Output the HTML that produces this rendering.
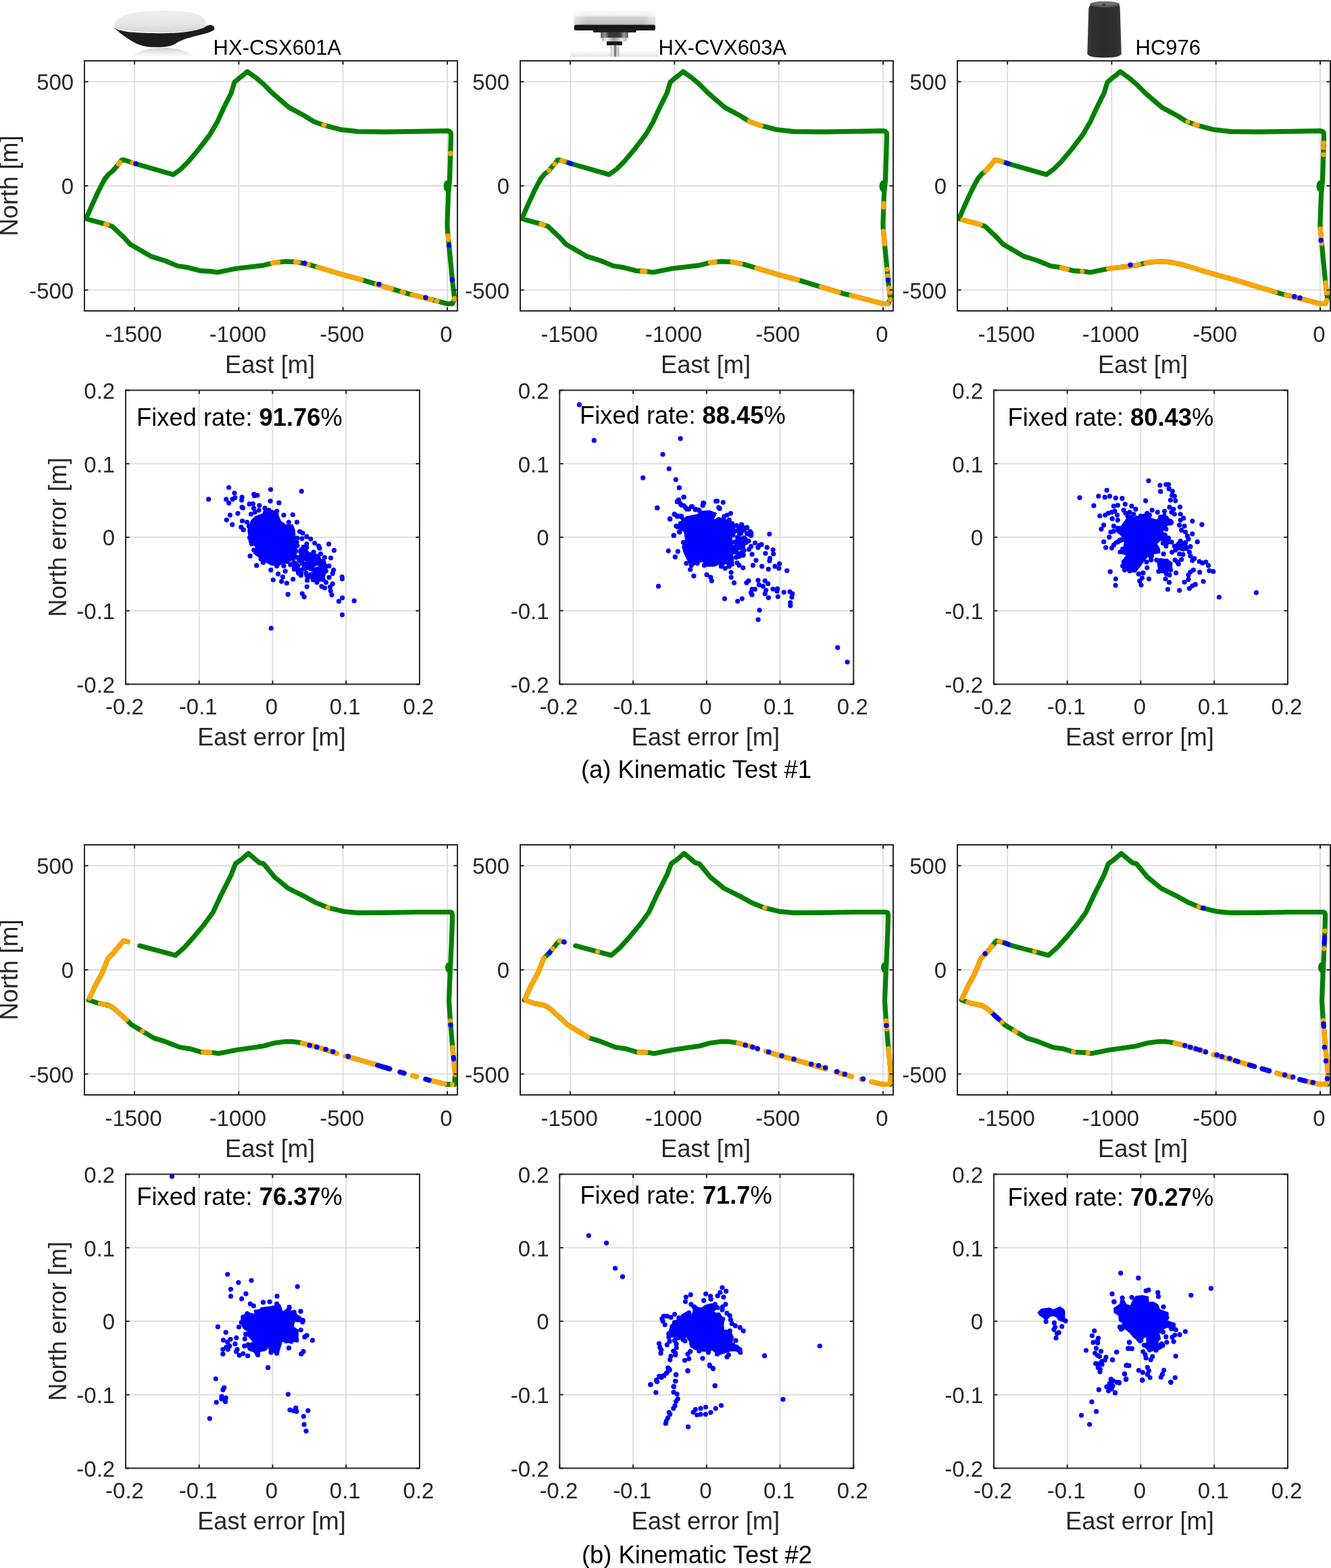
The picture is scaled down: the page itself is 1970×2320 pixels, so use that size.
<!DOCTYPE html><html><head><meta charset="utf-8"><title>Kinematic tests</title><style>html,body{margin:0;padding:0;background:#fff;overflow:hidden;width:1970px;height:2320px;}svg{display:block;}text{font-family:'Liberation Sans', Arial, Helvetica, sans-serif;}</style></head><body>
<svg width="1970" height="2320" viewBox="0 0 1970 2320">
<defs>
<clipPath id="ctr00"><rect x="125" y="90" width="552" height="370"/></clipPath>
<clipPath id="csc00"><rect x="186" y="577.4" width="435" height="435"/></clipPath>
<clipPath id="ctr01"><rect x="770" y="90" width="552" height="370"/></clipPath>
<clipPath id="csc01"><rect x="828.3" y="577.4" width="435" height="435"/></clipPath>
<clipPath id="ctr02"><rect x="1417" y="90" width="552" height="370"/></clipPath>
<clipPath id="csc02"><rect x="1470.9" y="577.4" width="435" height="435"/></clipPath>
<clipPath id="ctr10"><rect x="125" y="1250" width="552" height="370"/></clipPath>
<clipPath id="csc10"><rect x="186" y="1737.4" width="435" height="435"/></clipPath>
<clipPath id="ctr11"><rect x="770" y="1250" width="552" height="370"/></clipPath>
<clipPath id="csc11"><rect x="828.3" y="1737.4" width="435" height="435"/></clipPath>
<clipPath id="ctr12"><rect x="1417" y="1250" width="552" height="370"/></clipPath>
<clipPath id="csc12"><rect x="1470.9" y="1737.4" width="435" height="435"/></clipPath>

<linearGradient id="dome1" x1="0" y1="0" x2="0" y2="1"><stop offset="0" stop-color="#eef0ee"/><stop offset="0.6" stop-color="#e3e6e3"/><stop offset="1" stop-color="#d3d8d3"/></linearGradient>
<linearGradient id="refl1" x1="0" y1="0" x2="0" y2="1"><stop offset="0" stop-color="#d0d0d0"/><stop offset="1" stop-color="#ffffff"/></linearGradient>
<linearGradient id="top2" x1="0" y1="0" x2="0" y2="1"><stop offset="0" stop-color="#fbfbfb"/><stop offset="0.35" stop-color="#f1f1f1"/><stop offset="0.45" stop-color="#d2d2d2"/><stop offset="0.85" stop-color="#c4c4c4"/><stop offset="1" stop-color="#a9a9a9"/></linearGradient>
<linearGradient id="topH2" x1="0" y1="0" x2="1" y2="0"><stop offset="0" stop-color="#fff" stop-opacity="0.5"/><stop offset="0.15" stop-color="#fff" stop-opacity="0"/><stop offset="0.85" stop-color="#fff" stop-opacity="0"/><stop offset="1" stop-color="#fff" stop-opacity="0.5"/></linearGradient>
<linearGradient id="pin2" x1="0" y1="0" x2="1" y2="0"><stop offset="0" stop-color="#c8c6c0"/><stop offset="0.3" stop-color="#f0efea"/><stop offset="0.55" stop-color="#6e6b66"/><stop offset="0.8" stop-color="#e8e6e0"/><stop offset="1" stop-color="#a09e98"/></linearGradient>
<linearGradient id="ring2" x1="0" y1="0" x2="1" y2="0"><stop offset="0" stop-color="#bdbab4"/><stop offset="0.2" stop-color="#f2f1ed"/><stop offset="0.5" stop-color="#9d9a94"/><stop offset="0.8" stop-color="#f0efea"/><stop offset="1" stop-color="#b5b2ac"/></linearGradient>
<linearGradient id="nut2" x1="0" y1="0" x2="1" y2="0"><stop offset="0" stop-color="#555"/><stop offset="0.15" stop-color="#999"/><stop offset="0.3" stop-color="#3a3a3a"/><stop offset="0.7" stop-color="#3a3a3a"/><stop offset="0.85" stop-color="#999"/><stop offset="1" stop-color="#555"/></linearGradient>
<linearGradient id="shad2" x1="0" y1="0" x2="0" y2="1"><stop offset="0" stop-color="#ffffff"/><stop offset="1" stop-color="#e2e2e2"/></linearGradient>
<linearGradient id="body3" x1="0" y1="0" x2="1" y2="0"><stop offset="0" stop-color="#3c3d41"/><stop offset="0.12" stop-color="#2f3034"/><stop offset="0.5" stop-color="#2b2c30"/><stop offset="0.88" stop-color="#2f3034"/><stop offset="1" stop-color="#3a3b3f"/></linearGradient>

</defs>
<rect width="1970" height="2320" fill="#fff"/>

<path d="M194,84 C206,75 222,70.5 241,70.5 C262,70.5 279,76 290,84 Z" fill="url(#refl1)"/>
<path d="M168.6,40.5 C178,47.5 200,49 241,49.2 C272,49 294,45.5 304.5,38.5 L311,36.8 C316.5,37.5 318.5,40.5 317,44 C313,48 298,51 285,54.5 C273,57.5 265,61 259,65 C252,69 241,69.8 229,69.8 C215,69.8 205,66.5 198,62.5 C188,56.5 176,48.5 168.6,40.5 Z" fill="#1d1d1d"/>
<path d="M168.6,41 C167.5,30 179,22.5 199,18.8 C214,16.2 229,15.8 241.6,15.8 C255,15.8 270,16.2 285,18.8 C301,22.5 306,30 304.6,39.5 C295,45.5 270,47.8 241.5,48 C212,47.8 182,46 168.6,41 Z" fill="url(#dome1)"/>
<rect x="844" y="75" width="130" height="9" fill="url(#shad2)"/>
<rect x="849.5" y="15.3" width="120.7" height="22" rx="1.5" fill="url(#top2)"/>
<rect x="849.5" y="15.3" width="120.7" height="22" rx="1.5" fill="url(#topH2)"/>
<rect x="849.8" y="36.7" width="120.2" height="8.2" rx="2.5" fill="#161616"/>
<rect x="878" y="44" width="63.6" height="4" rx="1" fill="#1e1e1e"/>
<rect x="889.2" y="47.9" width="40.5" height="8.2" fill="url(#nut2)"/>
<rect x="890.8" y="55.8" width="36.5" height="5.6" fill="url(#ring2)"/>
<rect x="897.9" y="61.2" width="23.1" height="5.8" rx="1" fill="#121212"/>
<rect x="903.5" y="66.8" width="12.7" height="17" fill="url(#pin2)"/>
<path d="M1613,8 L1611.3,12 L1609.3,80 C1612,84.5 1622,85.2 1634.5,85.2 C1647,85.2 1657,84.5 1659.8,80 L1657.7,12 L1657.2,8 Z" fill="url(#body3)"/>
<ellipse cx="1635.1" cy="6.4" rx="22.1" ry="4.3" fill="#55565a"/>
<ellipse cx="1635" cy="5.2" rx="19" ry="3" fill="#6f7074"/>
<ellipse cx="1633.8" cy="6.9" rx="2.6" ry="1.1" fill="#2a2b2e"/>

<line x1="199.07" y1="90" x2="199.07" y2="460" stroke="#dcdcdc" stroke-width="1.8"/><line x1="353.38" y1="90" x2="353.38" y2="460" stroke="#dcdcdc" stroke-width="1.8"/><line x1="507.69" y1="90" x2="507.69" y2="460" stroke="#dcdcdc" stroke-width="1.8"/><line x1="662" y1="90" x2="662" y2="460" stroke="#dcdcdc" stroke-width="1.8"/><line x1="125" y1="120.83" x2="677" y2="120.83" stroke="#dcdcdc" stroke-width="1.8"/><line x1="125" y1="275" x2="677" y2="275" stroke="#dcdcdc" stroke-width="1.8"/><line x1="125" y1="429.17" x2="677" y2="429.17" stroke="#dcdcdc" stroke-width="1.8"/><g clip-path="url(#ctr00)"><polyline points="570.8,195.2 620.2,194.4 661.2,193.6 665,194 667.2,196.5 667.5,201 666.8,226.4 665.5,267.5 663.6,285 662,329.3 662.1,337.5 664.5,362.2 669.5,414.8 672.8,442.7 669.5,449.3 661.2,449.3 636.6,442.7 603.7,434.5 570.8,424.7 538,414.8 505.1,405.8 472.2,395.9 455.8,391 439.3,387.7 422.9,386.9 406.4,388.5 390,392.6 348.6,397.5 321.6,403 310.5,401.4 296.2,400.6 278.7,395.9 262.9,393.5 243.8,385.6 223.2,379.2 193,361.7 183.5,351.4 166,334.8 157.3,331.8 139.1,326.9 127.5,323.6 137.3,300.9 144.8,284.7 151.2,272 155.8,263.9 161.6,257 166.2,253.5 170.8,248.3 176,242.5 180.1,236.8 183.5,236.6 186.7,237.6 201,242.4 256.5,258.3 267.6,250.3 278.7,239.2 294.6,220.2 310.5,199.5 321.6,180.5 331.1,159.8 342.2,137.6 347,121.7 353.3,116.2 359.7,111.4 366,105.9 380.3,116.2 390,124.5 403.2,137.7 427.8,159 450.8,171.4 464,179.6 479.6,185.3 505.1,191.9 529.7,194.7 570.8,195.2" fill="none" stroke="#008000" stroke-width="7.2" stroke-linecap="round" stroke-linejoin="round"/><ellipse cx="661.5" cy="275.5" rx="5" ry="8.5" fill="#008000"/><polyline points="175.62,242.92 176,242.5 177.51,240.41" fill="none" stroke="#FFA500" stroke-width="7.2" stroke-linecap="round" stroke-linejoin="round"/><polyline points="195.94,240.7 196.89,241.02" fill="none" stroke="#FFA500" stroke-width="7.2" stroke-linecap="round" stroke-linejoin="round"/><polyline points="479.06,185.1 479.6,185.3 480.02,185.41" fill="none" stroke="#FFA500" stroke-width="7.2" stroke-linecap="round" stroke-linejoin="round"/><polyline points="666.8,226.52 666.76,227.52" fill="none" stroke="#FFA500" stroke-width="7.2" stroke-linecap="round" stroke-linejoin="round"/><polyline points="158.71,332.29 157.3,331.8 156.58,331.61" fill="none" stroke="#FFA500" stroke-width="7.2" stroke-linecap="round" stroke-linejoin="round"/><polyline points="411.73,387.98 406.4,388.5 403.29,389.28" fill="none" stroke="#FFA500" stroke-width="7.2" stroke-linecap="round" stroke-linejoin="round"/><polyline points="441.22,388.08 439.3,387.7 437.39,387.61" fill="none" stroke="#FFA500" stroke-width="7.2" stroke-linecap="round" stroke-linejoin="round"/><polyline points="456.46,391.2 455.8,391 455.5,390.94" fill="none" stroke="#FFA500" stroke-width="7.2" stroke-linecap="round" stroke-linejoin="round"/><polyline points="535.11,414.01 505.1,405.8 472.2,395.9 470.19,395.3" fill="none" stroke="#FFA500" stroke-width="7.2" stroke-linecap="round" stroke-linejoin="round"/><polyline points="579.39,427.26 570.8,424.7 557.26,420.61" fill="none" stroke="#FFA500" stroke-width="7.2" stroke-linecap="round" stroke-linejoin="round"/><polyline points="597.52,432.66 595.05,431.92" fill="none" stroke="#FFA500" stroke-width="7.2" stroke-linecap="round" stroke-linejoin="round"/><polyline points="638.6,443.24 636.6,442.7 609.93,436.05" fill="none" stroke="#FFA500" stroke-width="7.2" stroke-linecap="round" stroke-linejoin="round"/><polyline points="646.98,445.49 646.02,445.23" fill="none" stroke="#FFA500" stroke-width="7.2" stroke-linecap="round" stroke-linejoin="round"/><polyline points="663.2,348.79 663.73,354.29" fill="none" stroke="#FFA500" stroke-width="7.2" stroke-linecap="round" stroke-linejoin="round"/><polyline points="672.66,441.49 672.77,442.48" fill="none" stroke="#FFA500" stroke-width="7.2" stroke-linecap="round" stroke-linejoin="round"/><circle cx="201" cy="242.2" r="3.75" fill="#0000FF"/><circle cx="450.8" cy="389.3" r="3.75" fill="#0000FF"/><circle cx="561" cy="420.6" r="3.75" fill="#0000FF"/><circle cx="630" cy="440.3" r="3.75" fill="#0000FF"/><circle cx="664.5" cy="363" r="3.75" fill="#0000FF"/><circle cx="669.5" cy="414" r="3.75" fill="#0000FF"/></g><rect x="125" y="90" width="552" height="370" fill="none" stroke="#262626" stroke-width="2"/><line x1="199.07" y1="90" x2="199.07" y2="95.5" stroke="#262626" stroke-width="2"/><line x1="199.07" y1="460" x2="199.07" y2="454.5" stroke="#262626" stroke-width="2"/><line x1="353.38" y1="90" x2="353.38" y2="95.5" stroke="#262626" stroke-width="2"/><line x1="353.38" y1="460" x2="353.38" y2="454.5" stroke="#262626" stroke-width="2"/><line x1="507.69" y1="90" x2="507.69" y2="95.5" stroke="#262626" stroke-width="2"/><line x1="507.69" y1="460" x2="507.69" y2="454.5" stroke="#262626" stroke-width="2"/><line x1="662" y1="90" x2="662" y2="95.5" stroke="#262626" stroke-width="2"/><line x1="662" y1="460" x2="662" y2="454.5" stroke="#262626" stroke-width="2"/><line x1="125" y1="120.83" x2="130.5" y2="120.83" stroke="#262626" stroke-width="2"/><line x1="677" y1="120.83" x2="671.5" y2="120.83" stroke="#262626" stroke-width="2"/><line x1="125" y1="275" x2="130.5" y2="275" stroke="#262626" stroke-width="2"/><line x1="677" y1="275" x2="671.5" y2="275" stroke="#262626" stroke-width="2"/><line x1="125" y1="429.17" x2="130.5" y2="429.17" stroke="#262626" stroke-width="2"/><line x1="677" y1="429.17" x2="671.5" y2="429.17" stroke="#262626" stroke-width="2"/><text transform="matrix(1 0 0 1.03 197.57 505.5)" font-size="33" text-anchor="middle" fill="#262626">-1500</text><text transform="matrix(1 0 0 1.03 351.88 505.5)" font-size="33" text-anchor="middle" fill="#262626">-1000</text><text transform="matrix(1 0 0 1.03 506.19 505.5)" font-size="33" text-anchor="middle" fill="#262626">-500</text><text transform="matrix(1 0 0 1.03 660.5 505.5)" font-size="33" text-anchor="middle" fill="#262626">0</text><text transform="matrix(1 0 0 1.03 109.2 133.23)" font-size="33" text-anchor="end" fill="#262626">500</text><text transform="matrix(1 0 0 1.03 109.2 287.4)" font-size="33" text-anchor="end" fill="#262626">0</text><text transform="matrix(1 0 0 1.03 109.2 441.57)" font-size="33" text-anchor="end" fill="#262626">-500</text><text transform="matrix(1 0 0 1.03 399.5 551.8)" font-size="36.3" text-anchor="middle" fill="#262626">East [m]</text><text transform="matrix(0 -1 1.03 0 25.5 275)" font-size="36.3" text-anchor="middle" fill="#262626">North [m]</text>
<g fill="#0000FF">
<line x1="294.75" y1="577.4" x2="294.75" y2="1012.4" stroke="#dcdcdc" stroke-width="1.8"/><line x1="403.5" y1="577.4" x2="403.5" y2="1012.4" stroke="#dcdcdc" stroke-width="1.8"/><line x1="512.25" y1="577.4" x2="512.25" y2="1012.4" stroke="#dcdcdc" stroke-width="1.8"/><line x1="186" y1="903.65" x2="621" y2="903.65" stroke="#dcdcdc" stroke-width="1.8"/><line x1="186" y1="794.9" x2="621" y2="794.9" stroke="#dcdcdc" stroke-width="1.8"/><line x1="186" y1="686.15" x2="621" y2="686.15" stroke="#dcdcdc" stroke-width="1.8"/><g clip-path="url(#csc00)"><polygon points="366.19,784.44 370.95,770.16 377.3,763.81 388.41,759.84 390.79,753.49 401.9,753.89 411.43,757.46 413.02,763.81 416.19,770.95 422.54,775.71 433.65,775.71 436.83,784.44 437.62,795.56 436.03,805.08 440,811.43 439.21,819.37 433.65,827.3 425.71,834.44 419.37,833.65 413.02,837.62 401.9,836.83 392.38,832.06 382.86,824.92 374.92,819.37 378.1,809.84 371.75,803.49 367.78,795.56"/><circle cx="474.21" cy="845.38" r="3.6"/><circle cx="450.67" cy="818.85" r="3.6"/><circle cx="455.71" cy="826.61" r="3.6"/><circle cx="453.78" cy="836.1" r="3.6"/><circle cx="477.75" cy="831.92" r="3.6"/><circle cx="442.96" cy="845.27" r="3.6"/><circle cx="477.84" cy="857.34" r="3.6"/><circle cx="472.31" cy="853.05" r="3.6"/><circle cx="444.53" cy="843.89" r="3.6"/><circle cx="477.24" cy="841.45" r="3.6"/><circle cx="453.53" cy="810.43" r="3.6"/><circle cx="451.42" cy="837.56" r="3.6"/><circle cx="478.02" cy="856.48" r="3.6"/><circle cx="453.8" cy="851.09" r="3.6"/><circle cx="441.77" cy="847.89" r="3.6"/><circle cx="467.29" cy="826.29" r="3.6"/><circle cx="473.13" cy="840.61" r="3.6"/><circle cx="445.37" cy="851.37" r="3.6"/><circle cx="437.92" cy="835.26" r="3.6"/><circle cx="471.92" cy="828.9" r="3.6"/><circle cx="431.77" cy="822.1" r="3.6"/><circle cx="455.52" cy="854.68" r="3.6"/><circle cx="433.36" cy="834.39" r="3.6"/><circle cx="466.55" cy="834.19" r="3.6"/><circle cx="472.55" cy="833.81" r="3.6"/><circle cx="480.85" cy="837.15" r="3.6"/><circle cx="459.95" cy="828.74" r="3.6"/><circle cx="460.43" cy="825.55" r="3.6"/><circle cx="459.28" cy="820.52" r="3.6"/><circle cx="437.82" cy="815.01" r="3.6"/><circle cx="461.34" cy="840" r="3.6"/><circle cx="453.78" cy="809.86" r="3.6"/><circle cx="469.39" cy="851.7" r="3.6"/><circle cx="478.6" cy="849.88" r="3.6"/><circle cx="477.2" cy="854.16" r="3.6"/><circle cx="457.33" cy="825.89" r="3.6"/><circle cx="472.39" cy="850.25" r="3.6"/><circle cx="477.03" cy="836.44" r="3.6"/><circle cx="480.07" cy="835.9" r="3.6"/><circle cx="452.33" cy="840.19" r="3.6"/><circle cx="461.35" cy="830.95" r="3.6"/><circle cx="462.31" cy="850.02" r="3.6"/><circle cx="440.8" cy="843.98" r="3.6"/><circle cx="433.81" cy="816.8" r="3.6"/><circle cx="435.43" cy="842.18" r="3.6"/><circle cx="429.81" cy="835.59" r="3.6"/><circle cx="477.86" cy="833.49" r="3.6"/><circle cx="462.58" cy="837.32" r="3.6"/><circle cx="459.3" cy="825.88" r="3.6"/><circle cx="434.18" cy="816.28" r="3.6"/><circle cx="471.79" cy="854.9" r="3.6"/><circle cx="432.94" cy="818.9" r="3.6"/><circle cx="439.57" cy="839.48" r="3.6"/><circle cx="446.76" cy="814.67" r="3.6"/><circle cx="438.38" cy="824.15" r="3.6"/><circle cx="467.95" cy="849.66" r="3.6"/><circle cx="464.67" cy="856.48" r="3.6"/><circle cx="441.23" cy="836.81" r="3.6"/><circle cx="451.87" cy="814.38" r="3.6"/><circle cx="453.5" cy="826.88" r="3.6"/><circle cx="458.92" cy="832.12" r="3.6"/><circle cx="444.6" cy="824.07" r="3.6"/><circle cx="468.5" cy="822.94" r="3.6"/><circle cx="446.87" cy="820.39" r="3.6"/><circle cx="462.51" cy="838.1" r="3.6"/><circle cx="467.06" cy="825.71" r="3.6"/><circle cx="450.32" cy="839.69" r="3.6"/><circle cx="445.88" cy="817.81" r="3.6"/><circle cx="462.71" cy="825.21" r="3.6"/><circle cx="475.94" cy="835.29" r="3.6"/><circle cx="450.32" cy="826.47" r="3.6"/><circle cx="466.29" cy="827.32" r="3.6"/><circle cx="452.04" cy="818.86" r="3.6"/><circle cx="436.06" cy="833.13" r="3.6"/><circle cx="454.37" cy="834.93" r="3.6"/><circle cx="469.27" cy="852.08" r="3.6"/><circle cx="454.78" cy="821.67" r="3.6"/><circle cx="453.24" cy="848.1" r="3.6"/><circle cx="475.91" cy="848.28" r="3.6"/><circle cx="467.61" cy="857.55" r="3.6"/><circle cx="449.62" cy="841.16" r="3.6"/><circle cx="444.87" cy="816.43" r="3.6"/><circle cx="473.01" cy="833.17" r="3.6"/><circle cx="463.37" cy="851.54" r="3.6"/><circle cx="449.34" cy="809.4" r="3.6"/><circle cx="442.56" cy="829.17" r="3.6"/><circle cx="471.32" cy="850.88" r="3.6"/><circle cx="434.71" cy="832.78" r="3.6"/><circle cx="463.46" cy="823.53" r="3.6"/><circle cx="465.13" cy="834.77" r="3.6"/><circle cx="468.92" cy="842.37" r="3.6"/><circle cx="463.71" cy="842.96" r="3.6"/><circle cx="477.45" cy="839.12" r="3.6"/><circle cx="447.99" cy="833.68" r="3.6"/><circle cx="438.85" cy="836.3" r="3.6"/><circle cx="445.82" cy="847.07" r="3.6"/><circle cx="467.22" cy="823.07" r="3.6"/><circle cx="443.39" cy="826.07" r="3.6"/><circle cx="457.77" cy="820.68" r="3.6"/><circle cx="453.86" cy="817.83" r="3.6"/><circle cx="449.7" cy="822.55" r="3.6"/><circle cx="450.34" cy="810.36" r="3.6"/><circle cx="477.78" cy="830.28" r="3.6"/><circle cx="474.02" cy="856.99" r="3.6"/><circle cx="446.39" cy="830.55" r="3.6"/><circle cx="466.17" cy="827.76" r="3.6"/><circle cx="444.07" cy="844.15" r="3.6"/><circle cx="476.99" cy="853.98" r="3.6"/><circle cx="462.12" cy="825.05" r="3.6"/><circle cx="481.44" cy="839.05" r="3.6"/><circle cx="456.14" cy="828.93" r="3.6"/><circle cx="454.45" cy="836.18" r="3.6"/><circle cx="465.04" cy="827.57" r="3.6"/><circle cx="441.8" cy="846.4" r="3.6"/><circle cx="451.26" cy="824.14" r="3.6"/><circle cx="466.3" cy="853.1" r="3.6"/><circle cx="452.39" cy="841.07" r="3.6"/><circle cx="433.91" cy="826.24" r="3.6"/><circle cx="438.81" cy="807.32" r="3.6"/><circle cx="435.43" cy="815.61" r="3.6"/><circle cx="448.3" cy="834.13" r="3.6"/><circle cx="449.85" cy="841.23" r="3.6"/><circle cx="476.06" cy="831.42" r="3.6"/><circle cx="454.99" cy="831.59" r="3.6"/><circle cx="477.25" cy="848.58" r="3.6"/><circle cx="441.57" cy="846.78" r="3.6"/><circle cx="474.1" cy="836.08" r="3.6"/><circle cx="467.2" cy="847.99" r="3.6"/><circle cx="439.81" cy="807.24" r="3.6"/><circle cx="445.67" cy="813.62" r="3.6"/><circle cx="435.57" cy="839.97" r="3.6"/><circle cx="477.36" cy="831.8" r="3.6"/><circle cx="459.18" cy="841.16" r="3.6"/><circle cx="472.03" cy="845.38" r="3.6"/><circle cx="482.33" cy="844.8" r="3.6"/><circle cx="457.05" cy="836.91" r="3.6"/><circle cx="473.17" cy="830.72" r="3.6"/><circle cx="471.25" cy="825.74" r="3.6"/><circle cx="459.88" cy="850.35" r="3.6"/><circle cx="308.74" cy="738.64" r="3.6"/><circle cx="338.66" cy="721.25" r="3.6"/><circle cx="347.06" cy="729.5" r="3.6"/><circle cx="347.8" cy="736.43" r="3.6"/><circle cx="344.11" cy="738.64" r="3.6"/><circle cx="334.83" cy="738.93" r="3.6"/><circle cx="338.66" cy="744.24" r="3.6"/><circle cx="358.11" cy="735.69" r="3.6"/><circle cx="357.67" cy="740.11" r="3.6"/><circle cx="375.8" cy="731.27" r="3.6"/><circle cx="380.96" cy="732.74" r="3.6"/><circle cx="376.54" cy="733.48" r="3.6"/><circle cx="400.56" cy="724.34" r="3.6"/><circle cx="446.25" cy="726.85" r="3.6"/><circle cx="400.12" cy="741.29" r="3.6"/><circle cx="412.94" cy="743.94" r="3.6"/><circle cx="369.17" cy="745.71" r="3.6"/><circle cx="374.33" cy="745.27" r="3.6"/><circle cx="383.91" cy="747.77" r="3.6"/><circle cx="358.11" cy="750.43" r="3.6"/><circle cx="359.59" cy="751.61" r="3.6"/><circle cx="375.5" cy="751.9" r="3.6"/><circle cx="351.92" cy="759.57" r="3.6"/><circle cx="340.43" cy="762.22" r="3.6"/><circle cx="335.27" cy="769.29" r="3.6"/><circle cx="343.82" cy="776.22" r="3.6"/><circle cx="358.56" cy="770.77" r="3.6"/><circle cx="356.93" cy="779.9" r="3.6"/><circle cx="360.32" cy="783.88" r="3.6"/><circle cx="433.28" cy="761.48" r="3.6"/><circle cx="439.47" cy="772.54" r="3.6"/><circle cx="420.01" cy="762.22" r="3.6"/><circle cx="417.8" cy="776.22" r="3.6"/><circle cx="443.6" cy="786.54" r="3.6"/><circle cx="448.02" cy="788.75" r="3.6"/><circle cx="453.91" cy="793.91" r="3.6"/><circle cx="459.81" cy="797.59" r="3.6"/><circle cx="465.7" cy="803.49" r="3.6"/><circle cx="471.6" cy="807.91" r="3.6"/><circle cx="473.07" cy="811.15" r="3.6"/><circle cx="486.63" cy="804.96" r="3.6"/><circle cx="494.44" cy="814.24" r="3.6"/><circle cx="489.58" cy="825.59" r="3.6"/><circle cx="480.44" cy="824.86" r="3.6"/><circle cx="487.07" cy="837.38" r="3.6"/><circle cx="493.71" cy="843.28" r="3.6"/><circle cx="492.23" cy="848.44" r="3.6"/><circle cx="487.07" cy="854.33" r="3.6"/><circle cx="482.65" cy="861.7" r="3.6"/><circle cx="492.23" cy="863.91" r="3.6"/><circle cx="488.55" cy="868.33" r="3.6"/><circle cx="489.29" cy="874.23" r="3.6"/><circle cx="491.05" cy="880.13" r="3.6"/><circle cx="506.23" cy="853.6" r="3.6"/><circle cx="506.53" cy="856.54" r="3.6"/><circle cx="506.68" cy="884.55" r="3.6"/><circle cx="501.52" cy="889.71" r="3.6"/><circle cx="524.22" cy="888.97" r="3.6"/><circle cx="506.53" cy="909.6" r="3.6"/><circle cx="401.3" cy="929.5" r="3.6"/><circle cx="426.2" cy="879.39" r="3.6"/><circle cx="447.28" cy="878.36" r="3.6"/><circle cx="450.23" cy="883.07" r="3.6"/><circle cx="454.21" cy="868.04" r="3.6"/><circle cx="476.02" cy="867.6" r="3.6"/><circle cx="480.44" cy="869.81" r="3.6"/><circle cx="424.44" cy="862.73" r="3.6"/><circle cx="433.72" cy="856.99" r="3.6"/><circle cx="404.24" cy="858.02" r="3.6"/><circle cx="416.77" cy="860.23" r="3.6"/><circle cx="411.61" cy="849.17" r="3.6"/><circle cx="418.54" cy="853.6" r="3.6"/><circle cx="422.23" cy="845.05" r="3.6"/><circle cx="400.85" cy="843.28" r="3.6"/><circle cx="379.78" cy="836.65" r="3.6"/><circle cx="370.2" cy="822.65" r="3.6"/><circle cx="389.36" cy="832.23" r="3.6"/><circle cx="372.56" cy="804.66" r="3.6"/><circle cx="369.61" cy="795.38" r="3.6"/><circle cx="439.91" cy="796.12" r="3.6"/><circle cx="446.99" cy="796.85" r="3.6"/><circle cx="454.65" cy="858.75" r="3.6"/><circle cx="469.09" cy="861.7" r="3.6"/><circle cx="463.49" cy="858.02" r="3.6"/><circle cx="371.38" cy="760.74" r="3.6"/><circle cx="368.43" cy="778.43" r="3.6"/><circle cx="365.48" cy="772.54" r="3.6"/><circle cx="377.27" cy="757.8" r="3.6"/><circle cx="383.17" cy="754.85" r="3.6"/><circle cx="392.01" cy="751.9" r="3.6"/><circle cx="397.91" cy="754.85" r="3.6"/><circle cx="409.7" cy="756.32" r="3.6"/><circle cx="427.38" cy="772.54" r="3.6"/><circle cx="431.81" cy="781.38" r="3.6"/><circle cx="439.17" cy="802.01" r="3.6"/><circle cx="453.91" cy="804.96" r="3.6"/><circle cx="464.23" cy="816.75" r="3.6"/><circle cx="474.55" cy="819.7" r="3.6"/><circle cx="478.97" cy="831.49" r="3.6"/><circle cx="471.6" cy="852.12" r="3.6"/><circle cx="462.76" cy="855.07" r="3.6"/><circle cx="442.12" cy="846.23" r="3.6"/><circle cx="436.23" cy="837.38" r="3.6"/><circle cx="420.01" cy="837.38" r="3.6"/><circle cx="409.7" cy="837.38" r="3.6"/><circle cx="386.12" cy="827.07" r="3.6"/><circle cx="375.8" cy="813.8" r="3.6"/><circle cx="371.38" cy="800.54" r="3.6"/></g><rect x="186" y="577.4" width="435" height="435" fill="none" stroke="#262626" stroke-width="2"/><line x1="186" y1="577.4" x2="186" y2="582.9" stroke="#262626" stroke-width="2"/><line x1="186" y1="1012.4" x2="186" y2="1006.9" stroke="#262626" stroke-width="2"/><line x1="294.75" y1="577.4" x2="294.75" y2="582.9" stroke="#262626" stroke-width="2"/><line x1="294.75" y1="1012.4" x2="294.75" y2="1006.9" stroke="#262626" stroke-width="2"/><line x1="403.5" y1="577.4" x2="403.5" y2="582.9" stroke="#262626" stroke-width="2"/><line x1="403.5" y1="1012.4" x2="403.5" y2="1006.9" stroke="#262626" stroke-width="2"/><line x1="512.25" y1="577.4" x2="512.25" y2="582.9" stroke="#262626" stroke-width="2"/><line x1="512.25" y1="1012.4" x2="512.25" y2="1006.9" stroke="#262626" stroke-width="2"/><line x1="621" y1="577.4" x2="621" y2="582.9" stroke="#262626" stroke-width="2"/><line x1="621" y1="1012.4" x2="621" y2="1006.9" stroke="#262626" stroke-width="2"/><line x1="186" y1="1012.4" x2="191.5" y2="1012.4" stroke="#262626" stroke-width="2"/><line x1="621" y1="1012.4" x2="615.5" y2="1012.4" stroke="#262626" stroke-width="2"/><line x1="186" y1="903.65" x2="191.5" y2="903.65" stroke="#262626" stroke-width="2"/><line x1="621" y1="903.65" x2="615.5" y2="903.65" stroke="#262626" stroke-width="2"/><line x1="186" y1="794.9" x2="191.5" y2="794.9" stroke="#262626" stroke-width="2"/><line x1="621" y1="794.9" x2="615.5" y2="794.9" stroke="#262626" stroke-width="2"/><line x1="186" y1="686.15" x2="191.5" y2="686.15" stroke="#262626" stroke-width="2"/><line x1="621" y1="686.15" x2="615.5" y2="686.15" stroke="#262626" stroke-width="2"/><line x1="186" y1="577.4" x2="191.5" y2="577.4" stroke="#262626" stroke-width="2"/><line x1="621" y1="577.4" x2="615.5" y2="577.4" stroke="#262626" stroke-width="2"/><text transform="matrix(1 0 0 1.03 184.5 1057.3)" font-size="33" text-anchor="middle" fill="#262626">-0.2</text><text transform="matrix(1 0 0 1.03 293.25 1057.3)" font-size="33" text-anchor="middle" fill="#262626">-0.1</text><text transform="matrix(1 0 0 1.03 402 1057.3)" font-size="33" text-anchor="middle" fill="#262626">0</text><text transform="matrix(1 0 0 1.03 510.75 1057.3)" font-size="33" text-anchor="middle" fill="#262626">0.1</text><text transform="matrix(1 0 0 1.03 619.5 1057.3)" font-size="33" text-anchor="middle" fill="#262626">0.2</text><text transform="matrix(1 0 0 1.03 170.2 1024.8)" font-size="33" text-anchor="end" fill="#262626">-0.2</text><text transform="matrix(1 0 0 1.03 170.2 916.05)" font-size="33" text-anchor="end" fill="#262626">-0.1</text><text transform="matrix(1 0 0 1.03 170.2 807.3)" font-size="33" text-anchor="end" fill="#262626">0</text><text transform="matrix(1 0 0 1.03 170.2 698.55)" font-size="33" text-anchor="end" fill="#262626">0.1</text><text transform="matrix(1 0 0 1.03 170.2 589.8)" font-size="33" text-anchor="end" fill="#262626">0.2</text><text transform="matrix(1 0 0 1.03 402 1103.3)" font-size="36.3" text-anchor="middle" fill="#262626">East error [m]</text><text transform="matrix(0 -1 1.03 0 97.5 794.9)" font-size="36.3" text-anchor="middle" fill="#262626">North error [m]</text><text transform="matrix(1 0 0 1.03 202.1 629.7)" font-size="36.3" fill="#000">Fixed rate: <tspan font-weight="bold">91.76</tspan>%</text>
</g>
<line x1="844.07" y1="90" x2="844.07" y2="460" stroke="#dcdcdc" stroke-width="1.8"/><line x1="998.38" y1="90" x2="998.38" y2="460" stroke="#dcdcdc" stroke-width="1.8"/><line x1="1152.69" y1="90" x2="1152.69" y2="460" stroke="#dcdcdc" stroke-width="1.8"/><line x1="1307" y1="90" x2="1307" y2="460" stroke="#dcdcdc" stroke-width="1.8"/><line x1="770" y1="120.83" x2="1322" y2="120.83" stroke="#dcdcdc" stroke-width="1.8"/><line x1="770" y1="275" x2="1322" y2="275" stroke="#dcdcdc" stroke-width="1.8"/><line x1="770" y1="429.17" x2="1322" y2="429.17" stroke="#dcdcdc" stroke-width="1.8"/><g clip-path="url(#ctr01)"><polyline points="1215.8,195.2 1265.2,194.4 1306.2,193.6 1310,194 1312.2,196.5 1312.5,201 1311.8,226.4 1310.5,267.5 1308.6,285 1307,329.3 1307.1,337.5 1309.5,362.2 1314.5,414.8 1317.8,442.7 1314.5,449.3 1306.2,449.3 1281.6,442.7 1248.7,434.5 1215.8,424.7 1183,414.8 1150.1,405.8 1117.2,395.9 1100.8,391 1084.3,387.7 1067.9,386.9 1051.4,388.5 1035,392.6 993.6,397.5 966.6,403 955.5,401.4 941.2,400.6 923.7,395.9 907.9,393.5 888.8,385.6 868.2,379.2 838,361.7 828.5,351.4 811,334.8 802.3,331.8 784.1,326.9 772.5,323.6 782.3,300.9 789.8,284.7 796.2,272 800.8,263.9 806.6,257 811.2,253.5 815.8,248.3 821,242.5 825.1,236.8 828.5,236.6 831.7,237.6 846,242.4 901.5,258.3 912.6,250.3 923.7,239.2 939.6,220.2 955.5,199.5 966.6,180.5 976.1,159.8 987.2,137.6 992,121.7 998.3,116.2 1004.7,111.4 1011,105.9 1025.3,116.2 1035,124.5 1048.2,137.7 1072.8,159 1095.8,171.4 1109,179.6 1124.6,185.3 1150.1,191.9 1174.7,194.7 1215.8,195.2" fill="none" stroke="#008000" stroke-width="7.2" stroke-linecap="round" stroke-linejoin="round"/><ellipse cx="1306.5" cy="275.5" rx="5" ry="8.5" fill="#008000"/><polyline points="812.46,252.08 812.46,252.08" fill="none" stroke="#FFA500" stroke-width="7.2" stroke-linecap="round" stroke-linejoin="round"/><polyline points="820.87,242.64 820.87,242.64" fill="none" stroke="#FFA500" stroke-width="7.2" stroke-linecap="round" stroke-linejoin="round"/><polyline points="831.42,237.51 831.7,237.6 835,238.71" fill="none" stroke="#FFA500" stroke-width="7.2" stroke-linecap="round" stroke-linejoin="round"/><polyline points="1108.81,179.48 1109,179.6 1124.6,185.3 1126.7,185.84" fill="none" stroke="#FFA500" stroke-width="7.2" stroke-linecap="round" stroke-linejoin="round"/><polyline points="804.28,332.48 802.3,331.8 800.77,331.39" fill="none" stroke="#FFA500" stroke-width="7.2" stroke-linecap="round" stroke-linejoin="round"/><polyline points="954.86,401.36 950.5,401.12" fill="none" stroke="#FFA500" stroke-width="7.2" stroke-linecap="round" stroke-linejoin="round"/><polyline points="1058.37,387.82 1051.4,388.5 1051.37,388.51" fill="none" stroke="#FFA500" stroke-width="7.2" stroke-linecap="round" stroke-linejoin="round"/><polyline points="1095.9,390.02 1084.3,387.7 1084,387.69" fill="none" stroke="#FFA500" stroke-width="7.2" stroke-linecap="round" stroke-linejoin="round"/><polyline points="1180.62,414.15 1150.1,405.8 1119.83,396.69" fill="none" stroke="#FFA500" stroke-width="7.2" stroke-linecap="round" stroke-linejoin="round"/><polyline points="1241.37,432.32 1215.8,424.7 1215.18,424.51" fill="none" stroke="#FFA500" stroke-width="7.2" stroke-linecap="round" stroke-linejoin="round"/><polyline points="1313.56,449.3 1306.2,449.3 1281.6,442.7 1259.78,437.26" fill="none" stroke="#FFA500" stroke-width="7.2" stroke-linecap="round" stroke-linejoin="round"/><polyline points="1308.02,301 1307.82,306.58" fill="none" stroke="#FFA500" stroke-width="7.2" stroke-linecap="round" stroke-linejoin="round"/><polyline points="1307.55,342.13 1309.36,360.8" fill="none" stroke="#FFA500" stroke-width="7.2" stroke-linecap="round" stroke-linejoin="round"/><polyline points="1312.94,398.39 1312.94,398.39" fill="none" stroke="#FFA500" stroke-width="7.2" stroke-linecap="round" stroke-linejoin="round"/><polyline points="1313.87,408.17 1313.87,408.17" fill="none" stroke="#FFA500" stroke-width="7.2" stroke-linecap="round" stroke-linejoin="round"/><polyline points="1315.82,425.96 1316.66,433.1" fill="none" stroke="#FFA500" stroke-width="7.2" stroke-linecap="round" stroke-linejoin="round"/><polyline points="1317.64,443.02 1317.64,443.02" fill="none" stroke="#FFA500" stroke-width="7.2" stroke-linecap="round" stroke-linejoin="round"/><polyline points="842.61,241.26 845.25,242.15" fill="none" stroke="#0000FF" stroke-width="7.2" stroke-linecap="round" stroke-linejoin="round"/><circle cx="1314.5" cy="414.5" r="3.75" fill="#0000FF"/></g><rect x="770" y="90" width="552" height="370" fill="none" stroke="#262626" stroke-width="2"/><line x1="844.07" y1="90" x2="844.07" y2="95.5" stroke="#262626" stroke-width="2"/><line x1="844.07" y1="460" x2="844.07" y2="454.5" stroke="#262626" stroke-width="2"/><line x1="998.38" y1="90" x2="998.38" y2="95.5" stroke="#262626" stroke-width="2"/><line x1="998.38" y1="460" x2="998.38" y2="454.5" stroke="#262626" stroke-width="2"/><line x1="1152.69" y1="90" x2="1152.69" y2="95.5" stroke="#262626" stroke-width="2"/><line x1="1152.69" y1="460" x2="1152.69" y2="454.5" stroke="#262626" stroke-width="2"/><line x1="1307" y1="90" x2="1307" y2="95.5" stroke="#262626" stroke-width="2"/><line x1="1307" y1="460" x2="1307" y2="454.5" stroke="#262626" stroke-width="2"/><line x1="770" y1="120.83" x2="775.5" y2="120.83" stroke="#262626" stroke-width="2"/><line x1="1322" y1="120.83" x2="1316.5" y2="120.83" stroke="#262626" stroke-width="2"/><line x1="770" y1="275" x2="775.5" y2="275" stroke="#262626" stroke-width="2"/><line x1="1322" y1="275" x2="1316.5" y2="275" stroke="#262626" stroke-width="2"/><line x1="770" y1="429.17" x2="775.5" y2="429.17" stroke="#262626" stroke-width="2"/><line x1="1322" y1="429.17" x2="1316.5" y2="429.17" stroke="#262626" stroke-width="2"/><text transform="matrix(1 0 0 1.03 842.57 505.5)" font-size="33" text-anchor="middle" fill="#262626">-1500</text><text transform="matrix(1 0 0 1.03 996.88 505.5)" font-size="33" text-anchor="middle" fill="#262626">-1000</text><text transform="matrix(1 0 0 1.03 1151.19 505.5)" font-size="33" text-anchor="middle" fill="#262626">-500</text><text transform="matrix(1 0 0 1.03 1305.5 505.5)" font-size="33" text-anchor="middle" fill="#262626">0</text><text transform="matrix(1 0 0 1.03 754.2 133.23)" font-size="33" text-anchor="end" fill="#262626">500</text><text transform="matrix(1 0 0 1.03 754.2 287.4)" font-size="33" text-anchor="end" fill="#262626">0</text><text transform="matrix(1 0 0 1.03 754.2 441.57)" font-size="33" text-anchor="end" fill="#262626">-500</text><text transform="matrix(1 0 0 1.03 1044.5 551.8)" font-size="36.3" text-anchor="middle" fill="#262626">East [m]</text>
<g fill="#0000FF">
<line x1="937.05" y1="577.4" x2="937.05" y2="1012.4" stroke="#dcdcdc" stroke-width="1.8"/><line x1="1045.8" y1="577.4" x2="1045.8" y2="1012.4" stroke="#dcdcdc" stroke-width="1.8"/><line x1="1154.55" y1="577.4" x2="1154.55" y2="1012.4" stroke="#dcdcdc" stroke-width="1.8"/><line x1="828.3" y1="903.65" x2="1263.3" y2="903.65" stroke="#dcdcdc" stroke-width="1.8"/><line x1="828.3" y1="794.9" x2="1263.3" y2="794.9" stroke="#dcdcdc" stroke-width="1.8"/><line x1="828.3" y1="686.15" x2="1263.3" y2="686.15" stroke="#dcdcdc" stroke-width="1.8"/><g clip-path="url(#csc01)"><polygon points="1007.46,773.33 1015.4,763.81 1031.27,760.63 1039.21,755.87 1050.32,755.08 1061.43,759.05 1056.67,768.57 1065.4,765.4 1074.13,766.98 1077.3,771.75 1081.27,779.68 1083.65,795.56 1085.24,803.49 1085.24,819.37 1086.83,837.62 1079.68,839.21 1074.13,834.44 1068.57,839.21 1064.6,835.24 1057.46,838.41 1045.56,838.41 1040.79,832.06 1033.65,832.86 1027.3,836.83 1021.75,837.62 1016.98,828.89 1012.22,819.37 1009.05,809.05 1013.81,797.94 1012.22,787.62 1001.11,779.68"/><circle cx="1111.88" cy="788.78" r="3.6"/><circle cx="1088.6" cy="810.76" r="3.6"/><circle cx="1084.74" cy="780.81" r="3.6"/><circle cx="1084.19" cy="789.37" r="3.6"/><circle cx="1100.17" cy="820.68" r="3.6"/><circle cx="1097.58" cy="817.52" r="3.6"/><circle cx="1093.66" cy="804.14" r="3.6"/><circle cx="1097.53" cy="820.94" r="3.6"/><circle cx="1099.54" cy="808.18" r="3.6"/><circle cx="1087.88" cy="801.73" r="3.6"/><circle cx="1096.58" cy="789.18" r="3.6"/><circle cx="1108.49" cy="790.18" r="3.6"/><circle cx="1094.96" cy="810.43" r="3.6"/><circle cx="1101.09" cy="784.57" r="3.6"/><circle cx="1096.05" cy="796.81" r="3.6"/><circle cx="1098.57" cy="779.22" r="3.6"/><circle cx="1085.3" cy="787.48" r="3.6"/><circle cx="1099.98" cy="804.8" r="3.6"/><circle cx="1096.48" cy="808.32" r="3.6"/><circle cx="1084.94" cy="791.55" r="3.6"/><circle cx="1111.49" cy="792.09" r="3.6"/><circle cx="1101.39" cy="795.96" r="3.6"/><circle cx="1097.2" cy="807.34" r="3.6"/><circle cx="1084.53" cy="784.38" r="3.6"/><circle cx="1091.98" cy="799.2" r="3.6"/><circle cx="1094.61" cy="789.2" r="3.6"/><circle cx="1093.88" cy="781.61" r="3.6"/><circle cx="1098.47" cy="784.51" r="3.6"/><circle cx="1082.61" cy="782.35" r="3.6"/><circle cx="1092.37" cy="819" r="3.6"/><circle cx="1099.13" cy="821.56" r="3.6"/><circle cx="1091.93" cy="784.98" r="3.6"/><circle cx="1103.25" cy="781.42" r="3.6"/><circle cx="1087.21" cy="785.53" r="3.6"/><circle cx="1100.77" cy="803.56" r="3.6"/><circle cx="1090.17" cy="805.97" r="3.6"/><circle cx="1093.52" cy="808.73" r="3.6"/><circle cx="1090.17" cy="812.42" r="3.6"/><circle cx="1102.98" cy="797.52" r="3.6"/><circle cx="1083.67" cy="791.16" r="3.6"/><circle cx="1093.61" cy="782.54" r="3.6"/><circle cx="1097.37" cy="785.5" r="3.6"/><circle cx="1100.13" cy="803.9" r="3.6"/><circle cx="1088.28" cy="815.59" r="3.6"/><circle cx="1098.44" cy="783.08" r="3.6"/><circle cx="1091.67" cy="795.03" r="3.6"/><circle cx="1080.49" cy="774.12" r="3.6"/><circle cx="1082.94" cy="777.14" r="3.6"/><circle cx="1087.58" cy="809.25" r="3.6"/><circle cx="1105.77" cy="789.44" r="3.6"/><circle cx="1078.58" cy="772.47" r="3.6"/><circle cx="1095.8" cy="799.58" r="3.6"/><circle cx="1095.94" cy="782.08" r="3.6"/><circle cx="1098.42" cy="783.56" r="3.6"/><circle cx="1085.43" cy="816.44" r="3.6"/><circle cx="1088.49" cy="816.53" r="3.6"/><circle cx="1005.48" cy="721.77" r="3.6"/><circle cx="1012.11" cy="735.48" r="3.6"/><circle cx="1004.3" cy="739.9" r="3.6"/><circle cx="1006.96" cy="745.06" r="3.6"/><circle cx="1012.11" cy="748" r="3.6"/><circle cx="1016.54" cy="753.16" r="3.6"/><circle cx="1023.17" cy="749.48" r="3.6"/><circle cx="1029.06" cy="753.9" r="3.6"/><circle cx="1034.96" cy="755.37" r="3.6"/><circle cx="1041.59" cy="744.32" r="3.6"/><circle cx="1040.12" cy="748" r="3.6"/><circle cx="1061.49" cy="741.37" r="3.6"/><circle cx="1070.33" cy="743.29" r="3.6"/><circle cx="1065.17" cy="752.42" r="3.6"/><circle cx="1063.7" cy="750.95" r="3.6"/><circle cx="1081.39" cy="759.5" r="3.6"/><circle cx="1076.23" cy="762" r="3.6"/><circle cx="1071.81" cy="764.22" r="3.6"/><circle cx="1063.7" cy="768.64" r="3.6"/><circle cx="1079.17" cy="769.37" r="3.6"/><circle cx="1083.6" cy="774.53" r="3.6"/><circle cx="1090.23" cy="777.48" r="3.6"/><circle cx="1097.6" cy="776.01" r="3.6"/><circle cx="1105.7" cy="780.43" r="3.6"/><circle cx="1110.13" cy="786.32" r="3.6"/><circle cx="1111.6" cy="792.22" r="3.6"/><circle cx="972.76" cy="751.39" r="3.6"/><circle cx="991.78" cy="767.9" r="3.6"/><circle cx="998.11" cy="760.97" r="3.6"/><circle cx="1002.54" cy="764.22" r="3.6"/><circle cx="1008.43" cy="763.48" r="3.6"/><circle cx="1003.27" cy="779.69" r="3.6"/><circle cx="1005.48" cy="787.06" r="3.6"/><circle cx="997.38" cy="792.51" r="3.6"/><circle cx="1138.87" cy="790.01" r="3.6"/><circle cx="1107.91" cy="800.32" r="3.6"/><circle cx="1117.49" cy="803.27" r="3.6"/><circle cx="1124.13" cy="806.96" r="3.6"/><circle cx="1127.07" cy="805.48" r="3.6"/><circle cx="1111.6" cy="808.43" r="3.6"/><circle cx="1108.65" cy="812.85" r="3.6"/><circle cx="1121.92" cy="809.9" r="3.6"/><circle cx="1135.18" cy="809.9" r="3.6"/><circle cx="1144.02" cy="813.59" r="3.6"/><circle cx="1132.97" cy="818.75" r="3.6"/><circle cx="1144.76" cy="819.48" r="3.6"/><circle cx="1113.07" cy="820.22" r="3.6"/><circle cx="1118.97" cy="829.06" r="3.6"/><circle cx="1139.6" cy="826.12" r="3.6"/><circle cx="1138.87" cy="829.8" r="3.6"/><circle cx="1153.6" cy="834.22" r="3.6"/><circle cx="1146.97" cy="837.91" r="3.6"/><circle cx="1137.39" cy="842.03" r="3.6"/><circle cx="1152.87" cy="840.85" r="3.6"/><circle cx="1164.66" cy="844.24" r="3.6"/><circle cx="1127.81" cy="837.91" r="3.6"/><circle cx="1114.55" cy="836.43" r="3.6"/><circle cx="1099.81" cy="840.12" r="3.6"/><circle cx="1093.91" cy="836.43" r="3.6"/><circle cx="1090.97" cy="832.75" r="3.6"/><circle cx="1073.28" cy="840.85" r="3.6"/><circle cx="1082.12" cy="846.75" r="3.6"/><circle cx="1082.12" cy="854.12" r="3.6"/><circle cx="1086.54" cy="862.23" r="3.6"/><circle cx="1046.01" cy="850.43" r="3.6"/><circle cx="1051.91" cy="854.12" r="3.6"/><circle cx="1053.38" cy="859.28" r="3.6"/><circle cx="1026.85" cy="852.2" r="3.6"/><circle cx="1021.69" cy="842.77" r="3.6"/><circle cx="989.27" cy="815.06" r="3.6"/><circle cx="1003.27" cy="815.8" r="3.6"/><circle cx="999.29" cy="823.91" r="3.6"/><circle cx="974.53" cy="867.38" r="3.6"/><circle cx="1107.91" cy="859.28" r="3.6"/><circle cx="1104.97" cy="862.23" r="3.6"/><circle cx="1121.92" cy="858.54" r="3.6"/><circle cx="1132.23" cy="859.28" r="3.6"/><circle cx="1136.65" cy="863.7" r="3.6"/><circle cx="1123.39" cy="865.17" r="3.6"/><circle cx="1129.29" cy="867.38" r="3.6"/><circle cx="1117.49" cy="871.81" r="3.6"/><circle cx="1113.07" cy="871.81" r="3.6"/><circle cx="1111.6" cy="876.96" r="3.6"/><circle cx="1113.07" cy="879.91" r="3.6"/><circle cx="1133.71" cy="873.28" r="3.6"/><circle cx="1132.23" cy="878.44" r="3.6"/><circle cx="1144.02" cy="871.51" r="3.6"/><circle cx="1150.66" cy="871.07" r="3.6"/><circle cx="1149.92" cy="874.75" r="3.6"/><circle cx="1160.24" cy="876.23" r="3.6"/><circle cx="1169.08" cy="875.49" r="3.6"/><circle cx="1172.76" cy="878.44" r="3.6"/><circle cx="1172.03" cy="883.6" r="3.6"/><circle cx="1169.82" cy="891.7" r="3.6"/><circle cx="1169.82" cy="896.12" r="3.6"/><circle cx="1137.39" cy="884.33" r="3.6"/><circle cx="1151.39" cy="882.86" r="3.6"/><circle cx="1072.54" cy="885.81" r="3.6"/><circle cx="1091.7" cy="889.49" r="3.6"/><circle cx="1098.33" cy="885.81" r="3.6"/><circle cx="1124.13" cy="902.76" r="3.6"/><circle cx="1122.21" cy="916.76" r="3.6"/><circle cx="1099.81" cy="821.69" r="3.6"/><circle cx="1089.49" cy="824.64" r="3.6"/><circle cx="1015.8" cy="833.49" r="3.6"/><circle cx="1023.17" cy="836.43" r="3.6"/><circle cx="1032.01" cy="833.49" r="3.6"/><circle cx="1042.33" cy="836.43" r="3.6"/><circle cx="1067.38" cy="837.91" r="3.6"/><circle cx="1079.17" cy="837.91" r="3.6"/><circle cx="1093.91" cy="823.17" r="3.6"/><circle cx="1101.28" cy="814.33" r="3.6"/><circle cx="1104.23" cy="802.54" r="3.6"/><circle cx="1011.38" cy="802.54" r="3.6"/><circle cx="1014.33" cy="781.9" r="3.6"/><circle cx="1011.38" cy="768.64" r="3.6"/><circle cx="857.46" cy="598.71" r="3.6"/><circle cx="879.29" cy="651.71" r="3.6"/><circle cx="1007.12" cy="648.97" r="3.6"/><circle cx="980.93" cy="672.29" r="3.6"/><circle cx="990.29" cy="693.49" r="3.6"/><circle cx="951.62" cy="706.96" r="3.6"/><circle cx="1000.26" cy="709.71" r="3.6"/><circle cx="1005.25" cy="721.56" r="3.6"/><circle cx="1012.11" cy="735.28" r="3.6"/><circle cx="1004.63" cy="739.64" r="3.6"/><circle cx="972.83" cy="751.49" r="3.6"/><circle cx="991.53" cy="767.7" r="3.6"/><circle cx="997.15" cy="792.02" r="3.6"/><circle cx="1005.88" cy="787.03" r="3.6"/><circle cx="1040.8" cy="744.01" r="3.6"/><circle cx="1059.51" cy="741.51" r="3.6"/><circle cx="1002.14" cy="742.14" r="3.6"/><circle cx="1008.37" cy="747.12" r="3.6"/><circle cx="1014.61" cy="750.87" r="3.6"/><circle cx="1019.6" cy="753.36" r="3.6"/><circle cx="1024.58" cy="749.62" r="3.6"/><circle cx="1029.57" cy="753.36" r="3.6"/><circle cx="1034.56" cy="754.61" r="3.6"/><circle cx="998.39" cy="760.84" r="3.6"/><circle cx="1003.38" cy="763.34" r="3.6"/><circle cx="1008.37" cy="764.58" r="3.6"/><circle cx="1000.89" cy="778.3" r="3.6"/><circle cx="1007.12" cy="774.56" r="3.6"/><circle cx="1239.7" cy="958.2" r="3.6"/><circle cx="1254.2" cy="979.5" r="3.6"/></g><rect x="828.3" y="577.4" width="435" height="435" fill="none" stroke="#262626" stroke-width="2"/><line x1="828.3" y1="577.4" x2="828.3" y2="582.9" stroke="#262626" stroke-width="2"/><line x1="828.3" y1="1012.4" x2="828.3" y2="1006.9" stroke="#262626" stroke-width="2"/><line x1="937.05" y1="577.4" x2="937.05" y2="582.9" stroke="#262626" stroke-width="2"/><line x1="937.05" y1="1012.4" x2="937.05" y2="1006.9" stroke="#262626" stroke-width="2"/><line x1="1045.8" y1="577.4" x2="1045.8" y2="582.9" stroke="#262626" stroke-width="2"/><line x1="1045.8" y1="1012.4" x2="1045.8" y2="1006.9" stroke="#262626" stroke-width="2"/><line x1="1154.55" y1="577.4" x2="1154.55" y2="582.9" stroke="#262626" stroke-width="2"/><line x1="1154.55" y1="1012.4" x2="1154.55" y2="1006.9" stroke="#262626" stroke-width="2"/><line x1="1263.3" y1="577.4" x2="1263.3" y2="582.9" stroke="#262626" stroke-width="2"/><line x1="1263.3" y1="1012.4" x2="1263.3" y2="1006.9" stroke="#262626" stroke-width="2"/><line x1="828.3" y1="1012.4" x2="833.8" y2="1012.4" stroke="#262626" stroke-width="2"/><line x1="1263.3" y1="1012.4" x2="1257.8" y2="1012.4" stroke="#262626" stroke-width="2"/><line x1="828.3" y1="903.65" x2="833.8" y2="903.65" stroke="#262626" stroke-width="2"/><line x1="1263.3" y1="903.65" x2="1257.8" y2="903.65" stroke="#262626" stroke-width="2"/><line x1="828.3" y1="794.9" x2="833.8" y2="794.9" stroke="#262626" stroke-width="2"/><line x1="1263.3" y1="794.9" x2="1257.8" y2="794.9" stroke="#262626" stroke-width="2"/><line x1="828.3" y1="686.15" x2="833.8" y2="686.15" stroke="#262626" stroke-width="2"/><line x1="1263.3" y1="686.15" x2="1257.8" y2="686.15" stroke="#262626" stroke-width="2"/><line x1="828.3" y1="577.4" x2="833.8" y2="577.4" stroke="#262626" stroke-width="2"/><line x1="1263.3" y1="577.4" x2="1257.8" y2="577.4" stroke="#262626" stroke-width="2"/><text transform="matrix(1 0 0 1.03 826.8 1057.3)" font-size="33" text-anchor="middle" fill="#262626">-0.2</text><text transform="matrix(1 0 0 1.03 935.55 1057.3)" font-size="33" text-anchor="middle" fill="#262626">-0.1</text><text transform="matrix(1 0 0 1.03 1044.3 1057.3)" font-size="33" text-anchor="middle" fill="#262626">0</text><text transform="matrix(1 0 0 1.03 1153.05 1057.3)" font-size="33" text-anchor="middle" fill="#262626">0.1</text><text transform="matrix(1 0 0 1.03 1261.8 1057.3)" font-size="33" text-anchor="middle" fill="#262626">0.2</text><text transform="matrix(1 0 0 1.03 812.5 1024.8)" font-size="33" text-anchor="end" fill="#262626">-0.2</text><text transform="matrix(1 0 0 1.03 812.5 916.05)" font-size="33" text-anchor="end" fill="#262626">-0.1</text><text transform="matrix(1 0 0 1.03 812.5 807.3)" font-size="33" text-anchor="end" fill="#262626">0</text><text transform="matrix(1 0 0 1.03 812.5 698.55)" font-size="33" text-anchor="end" fill="#262626">0.1</text><text transform="matrix(1 0 0 1.03 812.5 589.8)" font-size="33" text-anchor="end" fill="#262626">0.2</text><text transform="matrix(1 0 0 1.03 1044.3 1103.3)" font-size="36.3" text-anchor="middle" fill="#262626">East error [m]</text><text transform="matrix(1 0 0 1.03 858.1 627.1)" font-size="36.3" fill="#000">Fixed rate: <tspan font-weight="bold">88.45</tspan>%</text>
</g>
<line x1="1491.07" y1="90" x2="1491.07" y2="460" stroke="#dcdcdc" stroke-width="1.8"/><line x1="1645.38" y1="90" x2="1645.38" y2="460" stroke="#dcdcdc" stroke-width="1.8"/><line x1="1799.69" y1="90" x2="1799.69" y2="460" stroke="#dcdcdc" stroke-width="1.8"/><line x1="1954" y1="90" x2="1954" y2="460" stroke="#dcdcdc" stroke-width="1.8"/><line x1="1417" y1="120.83" x2="1969" y2="120.83" stroke="#dcdcdc" stroke-width="1.8"/><line x1="1417" y1="275" x2="1969" y2="275" stroke="#dcdcdc" stroke-width="1.8"/><line x1="1417" y1="429.17" x2="1969" y2="429.17" stroke="#dcdcdc" stroke-width="1.8"/><g clip-path="url(#ctr02)"><polyline points="1862.8,195.2 1912.2,194.4 1953.2,193.6 1957,194 1959.2,196.5 1959.5,201 1958.8,226.4 1957.5,267.5 1955.6,285 1954,329.3 1954.1,337.5 1956.5,362.2 1961.5,414.8 1964.8,442.7 1961.5,449.3 1953.2,449.3 1928.6,442.7 1895.7,434.5 1862.8,424.7 1830,414.8 1797.1,405.8 1764.2,395.9 1747.8,391 1731.3,387.7 1714.9,386.9 1698.4,388.5 1682,392.6 1640.6,397.5 1613.6,403 1602.5,401.4 1588.2,400.6 1570.7,395.9 1554.9,393.5 1535.8,385.6 1515.2,379.2 1485,361.7 1475.5,351.4 1458,334.8 1449.3,331.8 1431.1,326.9 1419.5,323.6 1429.3,300.9 1436.8,284.7 1443.2,272 1447.8,263.9 1453.6,257 1458.2,253.5 1462.8,248.3 1468,242.5 1472.1,236.8 1475.5,236.6 1478.7,237.6 1493,242.4 1548.5,258.3 1559.6,250.3 1570.7,239.2 1586.6,220.2 1602.5,199.5 1613.6,180.5 1623.1,159.8 1634.2,137.6 1639,121.7 1645.3,116.2 1651.7,111.4 1658,105.9 1672.3,116.2 1682,124.5 1695.2,137.7 1719.8,159 1742.8,171.4 1756,179.6 1771.6,185.3 1797.1,191.9 1821.7,194.7 1862.8,195.2" fill="none" stroke="#008000" stroke-width="7.2" stroke-linecap="round" stroke-linejoin="round"/><ellipse cx="1953.5" cy="275.5" rx="5" ry="8.5" fill="#008000"/><polyline points="1458.6,253.05 1462.8,248.3 1468,242.5 1472.1,236.8 1475.5,236.6 1478.7,237.6 1482.96,239.03" fill="none" stroke="#FFA500" stroke-width="7.2" stroke-linecap="round" stroke-linejoin="round"/><polyline points="1757.84,180.27 1757.84,180.27" fill="none" stroke="#FFA500" stroke-width="7.2" stroke-linecap="round" stroke-linejoin="round"/><polyline points="1768.41,184.13 1771.6,185.3 1772.22,185.46" fill="none" stroke="#FFA500" stroke-width="7.2" stroke-linecap="round" stroke-linejoin="round"/><polyline points="1959.21,211.64 1959.21,211.64" fill="none" stroke="#FFA500" stroke-width="7.2" stroke-linecap="round" stroke-linejoin="round"/><polyline points="1959.02,218.24 1959.02,218.24" fill="none" stroke="#FFA500" stroke-width="7.2" stroke-linecap="round" stroke-linejoin="round"/><polyline points="1958.72,228.84 1958.72,228.84" fill="none" stroke="#FFA500" stroke-width="7.2" stroke-linecap="round" stroke-linejoin="round"/><polyline points="1450.94,332.37 1449.3,331.8 1431.1,326.9 1424.87,325.13" fill="none" stroke="#FFA500" stroke-width="7.2" stroke-linecap="round" stroke-linejoin="round"/><polyline points="1579.5,398.26 1571.19,396.03" fill="none" stroke="#FFA500" stroke-width="7.2" stroke-linecap="round" stroke-linejoin="round"/><polyline points="1601.66,401.35 1601.66,401.35" fill="none" stroke="#FFA500" stroke-width="7.2" stroke-linecap="round" stroke-linejoin="round"/><polyline points="1685.94,391.62 1682,392.6 1640.6,397.5 1640.47,397.53" fill="none" stroke="#FFA500" stroke-width="7.2" stroke-linecap="round" stroke-linejoin="round"/><polyline points="1887.77,432.14 1862.8,424.7 1830,414.8 1797.1,405.8 1764.2,395.9 1747.8,391 1731.3,387.7 1714.9,386.9 1698.4,388.5 1695.83,389.14" fill="none" stroke="#FFA500" stroke-width="7.2" stroke-linecap="round" stroke-linejoin="round"/><polyline points="1963.87,444.55 1961.5,449.3 1953.2,449.3 1928.6,442.7 1903.53,436.45" fill="none" stroke="#FFA500" stroke-width="7.2" stroke-linecap="round" stroke-linejoin="round"/><polyline points="1954.2,338.5 1956.31,360.29" fill="none" stroke="#FFA500" stroke-width="7.2" stroke-linecap="round" stroke-linejoin="round"/><polyline points="1961.93,418.43 1963.72,433.57" fill="none" stroke="#FFA500" stroke-width="7.2" stroke-linecap="round" stroke-linejoin="round"/><polyline points="1489.61,241.26 1492.25,242.15" fill="none" stroke="#0000FF" stroke-width="7.2" stroke-linecap="round" stroke-linejoin="round"/><circle cx="1673.1" cy="391.9" r="3.75" fill="#0000FF"/><circle cx="1955" cy="355.4" r="3.75" fill="#0000FF"/><circle cx="1915.8" cy="438.7" r="3.75" fill="#0000FF"/><circle cx="1924" cy="440.8" r="3.75" fill="#0000FF"/></g><rect x="1417" y="90" width="552" height="370" fill="none" stroke="#262626" stroke-width="2"/><line x1="1491.07" y1="90" x2="1491.07" y2="95.5" stroke="#262626" stroke-width="2"/><line x1="1491.07" y1="460" x2="1491.07" y2="454.5" stroke="#262626" stroke-width="2"/><line x1="1645.38" y1="90" x2="1645.38" y2="95.5" stroke="#262626" stroke-width="2"/><line x1="1645.38" y1="460" x2="1645.38" y2="454.5" stroke="#262626" stroke-width="2"/><line x1="1799.69" y1="90" x2="1799.69" y2="95.5" stroke="#262626" stroke-width="2"/><line x1="1799.69" y1="460" x2="1799.69" y2="454.5" stroke="#262626" stroke-width="2"/><line x1="1954" y1="90" x2="1954" y2="95.5" stroke="#262626" stroke-width="2"/><line x1="1954" y1="460" x2="1954" y2="454.5" stroke="#262626" stroke-width="2"/><line x1="1417" y1="120.83" x2="1422.5" y2="120.83" stroke="#262626" stroke-width="2"/><line x1="1969" y1="120.83" x2="1963.5" y2="120.83" stroke="#262626" stroke-width="2"/><line x1="1417" y1="275" x2="1422.5" y2="275" stroke="#262626" stroke-width="2"/><line x1="1969" y1="275" x2="1963.5" y2="275" stroke="#262626" stroke-width="2"/><line x1="1417" y1="429.17" x2="1422.5" y2="429.17" stroke="#262626" stroke-width="2"/><line x1="1969" y1="429.17" x2="1963.5" y2="429.17" stroke="#262626" stroke-width="2"/><text transform="matrix(1 0 0 1.03 1489.57 505.5)" font-size="33" text-anchor="middle" fill="#262626">-1500</text><text transform="matrix(1 0 0 1.03 1643.88 505.5)" font-size="33" text-anchor="middle" fill="#262626">-1000</text><text transform="matrix(1 0 0 1.03 1798.19 505.5)" font-size="33" text-anchor="middle" fill="#262626">-500</text><text transform="matrix(1 0 0 1.03 1952.5 505.5)" font-size="33" text-anchor="middle" fill="#262626">0</text><text transform="matrix(1 0 0 1.03 1401.2 133.23)" font-size="33" text-anchor="end" fill="#262626">500</text><text transform="matrix(1 0 0 1.03 1401.2 287.4)" font-size="33" text-anchor="end" fill="#262626">0</text><text transform="matrix(1 0 0 1.03 1401.2 441.57)" font-size="33" text-anchor="end" fill="#262626">-500</text><text transform="matrix(1 0 0 1.03 1691.5 551.8)" font-size="36.3" text-anchor="middle" fill="#262626">East [m]</text>
<g fill="#0000FF">
<line x1="1579.65" y1="577.4" x2="1579.65" y2="1012.4" stroke="#dcdcdc" stroke-width="1.8"/><line x1="1688.4" y1="577.4" x2="1688.4" y2="1012.4" stroke="#dcdcdc" stroke-width="1.8"/><line x1="1797.15" y1="577.4" x2="1797.15" y2="1012.4" stroke="#dcdcdc" stroke-width="1.8"/><line x1="1470.9" y1="903.65" x2="1905.9" y2="903.65" stroke="#dcdcdc" stroke-width="1.8"/><line x1="1470.9" y1="794.9" x2="1905.9" y2="794.9" stroke="#dcdcdc" stroke-width="1.8"/><line x1="1470.9" y1="686.15" x2="1905.9" y2="686.15" stroke="#dcdcdc" stroke-width="1.8"/><g clip-path="url(#csc02)"><polygon points="1659.05,778.1 1665.85,768.57 1671.29,760.41 1678.1,764.49 1684.9,765.85 1687.62,762.45 1697.82,757.69 1702.59,765.85 1711.43,768.57 1718.23,763.13 1725.03,756.33 1727.07,765.85 1735.24,768.57 1737.96,774.01 1728.44,778.1 1721.63,786.26 1728.44,794.42 1735.24,801.22 1728.44,806.67 1718.23,799.86 1712.79,804.63 1716.87,811.43 1717.55,818.23 1708.03,820.27 1703.95,828.44 1698.5,824.35 1693.06,831.16 1687.62,838.64 1680.82,847.48 1669.93,846.12 1662.45,838.64 1660.41,829.8 1666.53,821.63 1655.65,818.23 1662.45,810.07 1663.81,801.22 1653.61,805.31 1648.84,808.03 1648.16,801.22 1660.41,794.42 1653.61,787.62 1648.16,778.1"/><polygon points="1711.43,827.07 1718.23,825.71 1728.44,827.76 1735.24,831.84 1735.24,842.04 1725.03,848.84 1714.83,847.48 1713.47,838.64"/><polygon points="1744.08,799.86 1755.65,801.22 1759.73,811.43 1751.56,816.19 1743.4,813.47 1741.36,805.31"/><circle cx="1598.03" cy="736.43" r="3.6"/><circle cx="1625.88" cy="734.22" r="3.6"/><circle cx="1638.11" cy="725.37" r="3.6"/><circle cx="1635.17" cy="735.69" r="3.6"/><circle cx="1642.54" cy="734.22" r="3.6"/><circle cx="1651.38" cy="736.87" r="3.6"/><circle cx="1660.96" cy="737.46" r="3.6"/><circle cx="1618.95" cy="748.22" r="3.6"/><circle cx="1627.8" cy="763.25" r="3.6"/><circle cx="1635.9" cy="762.22" r="3.6"/><circle cx="1640.32" cy="759.27" r="3.6"/><circle cx="1645.48" cy="757.8" r="3.6"/><circle cx="1649.9" cy="756.32" r="3.6"/><circle cx="1648.43" cy="748.95" r="3.6"/><circle cx="1654.33" cy="747.48" r="3.6"/><circle cx="1665.38" cy="746.01" r="3.6"/><circle cx="1674.96" cy="748.95" r="3.6"/><circle cx="1680.85" cy="753.38" r="3.6"/><circle cx="1646.22" cy="767.38" r="3.6"/><circle cx="1653.59" cy="762.22" r="3.6"/><circle cx="1654.33" cy="769.59" r="3.6"/><circle cx="1648.43" cy="778.43" r="3.6"/><circle cx="1633.69" cy="776.96" r="3.6"/><circle cx="1630.01" cy="782.85" r="3.6"/><circle cx="1644.01" cy="787.27" r="3.6"/><circle cx="1648.43" cy="785.8" r="3.6"/><circle cx="1655.8" cy="785.8" r="3.6"/><circle cx="1641.8" cy="794.64" r="3.6"/><circle cx="1633.69" cy="801.72" r="3.6"/><circle cx="1636.64" cy="810.12" r="3.6"/><circle cx="1645.48" cy="810.85" r="3.6"/><circle cx="1648.43" cy="806.43" r="3.6"/><circle cx="1654.33" cy="802.01" r="3.6"/><circle cx="1657.27" cy="799.06" r="3.6"/><circle cx="1658.01" cy="816.75" r="3.6"/><circle cx="1661.69" cy="812.33" r="3.6"/><circle cx="1663.17" cy="754.85" r="3.6"/><circle cx="1666.12" cy="759.27" r="3.6"/><circle cx="1672.01" cy="757.8" r="3.6"/><circle cx="1669.06" cy="763.69" r="3.6"/><circle cx="1677.91" cy="760.74" r="3.6"/><circle cx="1682.33" cy="766.64" r="3.6"/><circle cx="1688.22" cy="763.69" r="3.6"/><circle cx="1695.59" cy="740.85" r="3.6"/><circle cx="1700.01" cy="711.37" r="3.6"/><circle cx="1705.17" cy="754.85" r="3.6"/><circle cx="1713.28" cy="757.8" r="3.6"/><circle cx="1697.8" cy="759.27" r="3.6"/><circle cx="1701.49" cy="762.22" r="3.6"/><circle cx="1694.12" cy="771.06" r="3.6"/><circle cx="1716.96" cy="718" r="3.6"/><circle cx="1717.7" cy="727.14" r="3.6"/><circle cx="1725.81" cy="716.97" r="3.6"/><circle cx="1729.49" cy="716.97" r="3.6"/><circle cx="1730.23" cy="723.16" r="3.6"/><circle cx="1735.39" cy="726.85" r="3.6"/><circle cx="1734.65" cy="732.74" r="3.6"/><circle cx="1738.33" cy="734.22" r="3.6"/><circle cx="1732.44" cy="740.11" r="3.6"/><circle cx="1739.81" cy="740.85" r="3.6"/><circle cx="1730.97" cy="750.43" r="3.6"/><circle cx="1736.86" cy="753.38" r="3.6"/><circle cx="1746.44" cy="750.13" r="3.6"/><circle cx="1723.6" cy="756.32" r="3.6"/><circle cx="1733.91" cy="757.8" r="3.6"/><circle cx="1738.33" cy="760.74" r="3.6"/><circle cx="1747.18" cy="760.74" r="3.6"/><circle cx="1751.6" cy="766.64" r="3.6"/><circle cx="1747.18" cy="769.59" r="3.6"/><circle cx="1753.07" cy="778.43" r="3.6"/><circle cx="1745.7" cy="776.96" r="3.6"/><circle cx="1748.65" cy="784.33" r="3.6"/><circle cx="1754.55" cy="787.27" r="3.6"/><circle cx="1757.49" cy="793.17" r="3.6"/><circle cx="1758.97" cy="797.59" r="3.6"/><circle cx="1754.55" cy="802.75" r="3.6"/><circle cx="1747.18" cy="800.54" r="3.6"/><circle cx="1744.23" cy="804.96" r="3.6"/><circle cx="1764.86" cy="771.06" r="3.6"/><circle cx="1778.87" cy="776.22" r="3.6"/><circle cx="1764.86" cy="789.78" r="3.6"/><circle cx="1772.23" cy="801.72" r="3.6"/><circle cx="1761.92" cy="808.64" r="3.6"/><circle cx="1756.02" cy="811.59" r="3.6"/><circle cx="1751.6" cy="807.91" r="3.6"/><circle cx="1744.23" cy="810.85" r="3.6"/><circle cx="1738.33" cy="807.91" r="3.6"/><circle cx="1733.91" cy="802.01" r="3.6"/><circle cx="1729.49" cy="796.12" r="3.6"/><circle cx="1724.33" cy="791.69" r="3.6"/><circle cx="1720.65" cy="772.54" r="3.6"/><circle cx="1717.7" cy="765.17" r="3.6"/><circle cx="1726.54" cy="766.64" r="3.6"/><circle cx="1732.44" cy="774.01" r="3.6"/><circle cx="1725.81" cy="782.85" r="3.6"/><circle cx="1721.39" cy="803.49" r="3.6"/><circle cx="1725.81" cy="807.91" r="3.6"/><circle cx="1734.65" cy="817.04" r="3.6"/><circle cx="1722.12" cy="819.7" r="3.6"/><circle cx="1739.81" cy="813.8" r="3.6"/><circle cx="1745.7" cy="819.7" r="3.6"/><circle cx="1750.86" cy="820.43" r="3.6"/><circle cx="1748.65" cy="827.8" r="3.6"/><circle cx="1744.23" cy="834.44" r="3.6"/><circle cx="1742.76" cy="831.49" r="3.6"/><circle cx="1739.07" cy="828.54" r="3.6"/><circle cx="1760.44" cy="816.75" r="3.6"/><circle cx="1761.92" cy="822.65" r="3.6"/><circle cx="1764.86" cy="829.28" r="3.6"/><circle cx="1767.81" cy="826.33" r="3.6"/><circle cx="1775.18" cy="830.75" r="3.6"/><circle cx="1779.6" cy="832.96" r="3.6"/><circle cx="1784.76" cy="831.49" r="3.6"/><circle cx="1788.45" cy="836.65" r="3.6"/><circle cx="1789.92" cy="844.46" r="3.6"/><circle cx="1795.81" cy="845.49" r="3.6"/><circle cx="1775.62" cy="846.67" r="3.6"/><circle cx="1766.34" cy="843.28" r="3.6"/><circle cx="1761.92" cy="846.23" r="3.6"/><circle cx="1758.97" cy="850.65" r="3.6"/><circle cx="1758.97" cy="857.28" r="3.6"/><circle cx="1753.07" cy="861.26" r="3.6"/><circle cx="1781.08" cy="860.23" r="3.6"/><circle cx="1769.29" cy="864.65" r="3.6"/><circle cx="1764.86" cy="866.86" r="3.6"/><circle cx="1760.44" cy="870.55" r="3.6"/><circle cx="1745.7" cy="873.49" r="3.6"/><circle cx="1728.46" cy="872.02" r="3.6"/><circle cx="1730.52" cy="861.7" r="3.6"/><circle cx="1725.07" cy="856.54" r="3.6"/><circle cx="1740.55" cy="847.7" r="3.6"/><circle cx="1714.75" cy="845.49" r="3.6"/><circle cx="1711.81" cy="828.54" r="3.6"/><circle cx="1716.23" cy="831.49" r="3.6"/><circle cx="1722.12" cy="831.49" r="3.6"/><circle cx="1726.54" cy="830.01" r="3.6"/><circle cx="1729.49" cy="837.38" r="3.6"/><circle cx="1732.44" cy="843.28" r="3.6"/><circle cx="1730.97" cy="850.65" r="3.6"/><circle cx="1726.54" cy="849.17" r="3.6"/><circle cx="1723.6" cy="840.33" r="3.6"/><circle cx="1719.17" cy="837.38" r="3.6"/><circle cx="1804.36" cy="883.52" r="3.6"/><circle cx="1643.27" cy="845.78" r="3.6"/><circle cx="1651.38" cy="856.54" r="3.6"/><circle cx="1651.08" cy="866.12" r="3.6"/><circle cx="1688.96" cy="865.39" r="3.6"/><circle cx="1686.75" cy="859.49" r="3.6"/><circle cx="1690.43" cy="855.07" r="3.6"/><circle cx="1700.46" cy="856.54" r="3.6"/><circle cx="1691.91" cy="847.7" r="3.6"/><circle cx="1685.28" cy="849.17" r="3.6"/><circle cx="1697.8" cy="840.04" r="3.6"/><circle cx="1697.07" cy="831.49" r="3.6"/><circle cx="1703.7" cy="828.54" r="3.6"/><circle cx="1704.44" cy="822.65" r="3.6"/><circle cx="1663.17" cy="831.49" r="3.6"/><circle cx="1664.64" cy="843.28" r="3.6"/><circle cx="1672.01" cy="844.75" r="3.6"/><circle cx="1661.69" cy="837.38" r="3.6"/><circle cx="1701.49" cy="778.43" r="3.6"/><circle cx="1707.38" cy="775.48" r="3.6"/><circle cx="1713.28" cy="778.43" r="3.6"/><circle cx="1859.4" cy="876.8" r="3.6"/></g><rect x="1470.9" y="577.4" width="435" height="435" fill="none" stroke="#262626" stroke-width="2"/><line x1="1470.9" y1="577.4" x2="1470.9" y2="582.9" stroke="#262626" stroke-width="2"/><line x1="1470.9" y1="1012.4" x2="1470.9" y2="1006.9" stroke="#262626" stroke-width="2"/><line x1="1579.65" y1="577.4" x2="1579.65" y2="582.9" stroke="#262626" stroke-width="2"/><line x1="1579.65" y1="1012.4" x2="1579.65" y2="1006.9" stroke="#262626" stroke-width="2"/><line x1="1688.4" y1="577.4" x2="1688.4" y2="582.9" stroke="#262626" stroke-width="2"/><line x1="1688.4" y1="1012.4" x2="1688.4" y2="1006.9" stroke="#262626" stroke-width="2"/><line x1="1797.15" y1="577.4" x2="1797.15" y2="582.9" stroke="#262626" stroke-width="2"/><line x1="1797.15" y1="1012.4" x2="1797.15" y2="1006.9" stroke="#262626" stroke-width="2"/><line x1="1905.9" y1="577.4" x2="1905.9" y2="582.9" stroke="#262626" stroke-width="2"/><line x1="1905.9" y1="1012.4" x2="1905.9" y2="1006.9" stroke="#262626" stroke-width="2"/><line x1="1470.9" y1="1012.4" x2="1476.4" y2="1012.4" stroke="#262626" stroke-width="2"/><line x1="1905.9" y1="1012.4" x2="1900.4" y2="1012.4" stroke="#262626" stroke-width="2"/><line x1="1470.9" y1="903.65" x2="1476.4" y2="903.65" stroke="#262626" stroke-width="2"/><line x1="1905.9" y1="903.65" x2="1900.4" y2="903.65" stroke="#262626" stroke-width="2"/><line x1="1470.9" y1="794.9" x2="1476.4" y2="794.9" stroke="#262626" stroke-width="2"/><line x1="1905.9" y1="794.9" x2="1900.4" y2="794.9" stroke="#262626" stroke-width="2"/><line x1="1470.9" y1="686.15" x2="1476.4" y2="686.15" stroke="#262626" stroke-width="2"/><line x1="1905.9" y1="686.15" x2="1900.4" y2="686.15" stroke="#262626" stroke-width="2"/><line x1="1470.9" y1="577.4" x2="1476.4" y2="577.4" stroke="#262626" stroke-width="2"/><line x1="1905.9" y1="577.4" x2="1900.4" y2="577.4" stroke="#262626" stroke-width="2"/><text transform="matrix(1 0 0 1.03 1469.4 1057.3)" font-size="33" text-anchor="middle" fill="#262626">-0.2</text><text transform="matrix(1 0 0 1.03 1578.15 1057.3)" font-size="33" text-anchor="middle" fill="#262626">-0.1</text><text transform="matrix(1 0 0 1.03 1686.9 1057.3)" font-size="33" text-anchor="middle" fill="#262626">0</text><text transform="matrix(1 0 0 1.03 1795.65 1057.3)" font-size="33" text-anchor="middle" fill="#262626">0.1</text><text transform="matrix(1 0 0 1.03 1904.4 1057.3)" font-size="33" text-anchor="middle" fill="#262626">0.2</text><text transform="matrix(1 0 0 1.03 1455.1 1024.8)" font-size="33" text-anchor="end" fill="#262626">-0.2</text><text transform="matrix(1 0 0 1.03 1455.1 916.05)" font-size="33" text-anchor="end" fill="#262626">-0.1</text><text transform="matrix(1 0 0 1.03 1455.1 807.3)" font-size="33" text-anchor="end" fill="#262626">0</text><text transform="matrix(1 0 0 1.03 1455.1 698.55)" font-size="33" text-anchor="end" fill="#262626">0.1</text><text transform="matrix(1 0 0 1.03 1455.1 589.8)" font-size="33" text-anchor="end" fill="#262626">0.2</text><text transform="matrix(1 0 0 1.03 1686.9 1103.3)" font-size="36.3" text-anchor="middle" fill="#262626">East error [m]</text><text transform="matrix(1 0 0 1.03 1491.6 629.5)" font-size="36.3" fill="#000">Fixed rate: <tspan font-weight="bold">80.43</tspan>%</text>
</g>
<line x1="199.07" y1="1250" x2="199.07" y2="1620" stroke="#dcdcdc" stroke-width="1.8"/><line x1="353.38" y1="1250" x2="353.38" y2="1620" stroke="#dcdcdc" stroke-width="1.8"/><line x1="507.69" y1="1250" x2="507.69" y2="1620" stroke="#dcdcdc" stroke-width="1.8"/><line x1="662" y1="1250" x2="662" y2="1620" stroke="#dcdcdc" stroke-width="1.8"/><line x1="125" y1="1280.83" x2="677" y2="1280.83" stroke="#dcdcdc" stroke-width="1.8"/><line x1="125" y1="1435" x2="677" y2="1435" stroke="#dcdcdc" stroke-width="1.8"/><line x1="125" y1="1589.17" x2="677" y2="1589.17" stroke="#dcdcdc" stroke-width="1.8"/><g clip-path="url(#ctr10)"><polyline points="570.8,1350.3 620.2,1349.5 666,1349.5 668.7,1350.5 669.6,1354 668.8,1381.5 667,1422.6 666.2,1440 664.5,1481.1 666.2,1505.8 669.5,1546.9 673.6,1588 672.8,1604.4 661.2,1604.4 636.6,1598.6 629.95,1596.78" fill="none" stroke="#008000" stroke-width="7.2" stroke-linecap="round" stroke-linejoin="round"/><polyline points="616.26,1593.04 610.94,1591.58" fill="none" stroke="#008000" stroke-width="7.2" stroke-linecap="round" stroke-linejoin="round"/><polyline points="598.11,1587.92 592.03,1586.09" fill="none" stroke="#008000" stroke-width="7.2" stroke-linecap="round" stroke-linejoin="round"/><polyline points="576.79,1581.5 570.8,1579.7 538,1569.9 511.82,1562.66" fill="none" stroke="#008000" stroke-width="7.2" stroke-linecap="round" stroke-linejoin="round"/><polyline points="498.46,1558.64 472.2,1550.1 458,1546.1 444.3,1542.7 434,1541.2 422.9,1541 406,1543.3 390,1547.7 350.2,1553.5 323.2,1558.7 315.2,1557.5 297.8,1556.7 281.9,1551.9 266,1549.5 243.8,1540.8 227.9,1536 210.5,1525.7 194.6,1516.2 188.3,1509.8 169.2,1492.4 161.3,1487.6 145.4,1484.4 131.1,1479.7 140.6,1459 151,1440 159.7,1418.3 167.6,1410.3 174,1402.4 182.7,1392.1 186.7,1392.9 189.5,1393.57" fill="none" stroke="#008000" stroke-width="7.2" stroke-linecap="round" stroke-linejoin="round"/><polyline points="206.78,1399.33 259.7,1413.5 272.4,1402.4 286.7,1386.5 302.5,1367.5 315.2,1350 326.3,1326.2 342.2,1294.4 348.6,1277.8 356.5,1272.2 367.6,1262.7 383.5,1276.2 390,1277.9 406.4,1297.7 426.2,1314.1 452.5,1327.3 467.3,1335.5 485.3,1342.9 508.4,1348.6 529.7,1350.6 570.8,1350.3" fill="none" stroke="#008000" stroke-width="7.2" stroke-linecap="round" stroke-linejoin="round"/><ellipse cx="663.5" cy="1431.5" rx="4.5" ry="7.5" fill="#008000"/><polyline points="132.35,1476.97 140.6,1459 151,1440 159.7,1418.3 167.6,1410.3 174,1402.4 182.7,1392.1 186.7,1392.9 189.5,1393.57" fill="none" stroke="#FFA500" stroke-width="7.2" stroke-linecap="round" stroke-linejoin="round"/><polyline points="485.3,1342.9 485.3,1342.9" fill="none" stroke="#FFA500" stroke-width="7.2" stroke-linecap="round" stroke-linejoin="round"/><polyline points="155.03,1486.34 148.34,1484.99" fill="none" stroke="#FFA500" stroke-width="7.2" stroke-linecap="round" stroke-linejoin="round"/><polyline points="187.07,1508.68 169.2,1492.4 161.3,1487.6 160.95,1487.53" fill="none" stroke="#FFA500" stroke-width="7.2" stroke-linecap="round" stroke-linejoin="round"/><polyline points="210.72,1525.83 210.72,1525.83" fill="none" stroke="#FFA500" stroke-width="7.2" stroke-linecap="round" stroke-linejoin="round"/><polyline points="310.61,1557.29 300.8,1556.84" fill="none" stroke="#FFA500" stroke-width="7.2" stroke-linecap="round" stroke-linejoin="round"/><polyline points="498.46,1558.64 472.2,1550.1 458,1546.1 447.42,1543.47" fill="none" stroke="#FFA500" stroke-width="7.2" stroke-linecap="round" stroke-linejoin="round"/><polyline points="576.79,1581.5 570.8,1579.7 538,1569.9 511.82,1562.66" fill="none" stroke="#FFA500" stroke-width="7.2" stroke-linecap="round" stroke-linejoin="round"/><polyline points="598.11,1587.92 592.03,1586.09" fill="none" stroke="#FFA500" stroke-width="7.2" stroke-linecap="round" stroke-linejoin="round"/><polyline points="616.26,1593.04 610.94,1591.58" fill="none" stroke="#FFA500" stroke-width="7.2" stroke-linecap="round" stroke-linejoin="round"/><polyline points="658.1,1603.67 636.6,1598.6 629.95,1596.78" fill="none" stroke="#FFA500" stroke-width="7.2" stroke-linecap="round" stroke-linejoin="round"/><polyline points="669.5,1604.4 669.5,1604.4" fill="none" stroke="#FFA500" stroke-width="7.2" stroke-linecap="round" stroke-linejoin="round"/><polyline points="669.8,1549.89 673.6,1588 673.51,1589.93" fill="none" stroke="#FFA500" stroke-width="7.2" stroke-linecap="round" stroke-linejoin="round"/><polyline points="666.59,1510.67 666.59,1510.67" fill="none" stroke="#FFA500" stroke-width="7.2" stroke-linecap="round" stroke-linejoin="round"/><circle cx="458.22" cy="1546.86" r="3.75" fill="#0000FF"/><circle cx="468.91" cy="1549.32" r="3.75" fill="#0000FF"/><circle cx="482.06" cy="1552.61" r="3.75" fill="#0000FF"/><circle cx="492.75" cy="1555.9" r="3.75" fill="#0000FF"/><circle cx="515.4" cy="1563" r="3.75" fill="#0000FF"/><polyline points="576.79,1581.5 570.8,1579.7 558.74,1576.1" fill="none" stroke="#0000FF" stroke-width="7.2" stroke-linecap="round" stroke-linejoin="round"/><polyline points="598.11,1587.92 592.03,1586.09" fill="none" stroke="#0000FF" stroke-width="7.2" stroke-linecap="round" stroke-linejoin="round"/><polyline points="635.16,1598.21 629.95,1596.78" fill="none" stroke="#0000FF" stroke-width="7.2" stroke-linecap="round" stroke-linejoin="round"/><polyline points="671.26,1564.54 671.5,1566.94" fill="none" stroke="#0000FF" stroke-width="7.2" stroke-linecap="round" stroke-linejoin="round"/><circle cx="667" cy="1516.4" r="3.75" fill="#0000FF"/></g><rect x="125" y="1250" width="552" height="370" fill="none" stroke="#262626" stroke-width="2"/><line x1="199.07" y1="1250" x2="199.07" y2="1255.5" stroke="#262626" stroke-width="2"/><line x1="199.07" y1="1620" x2="199.07" y2="1614.5" stroke="#262626" stroke-width="2"/><line x1="353.38" y1="1250" x2="353.38" y2="1255.5" stroke="#262626" stroke-width="2"/><line x1="353.38" y1="1620" x2="353.38" y2="1614.5" stroke="#262626" stroke-width="2"/><line x1="507.69" y1="1250" x2="507.69" y2="1255.5" stroke="#262626" stroke-width="2"/><line x1="507.69" y1="1620" x2="507.69" y2="1614.5" stroke="#262626" stroke-width="2"/><line x1="662" y1="1250" x2="662" y2="1255.5" stroke="#262626" stroke-width="2"/><line x1="662" y1="1620" x2="662" y2="1614.5" stroke="#262626" stroke-width="2"/><line x1="125" y1="1280.83" x2="130.5" y2="1280.83" stroke="#262626" stroke-width="2"/><line x1="677" y1="1280.83" x2="671.5" y2="1280.83" stroke="#262626" stroke-width="2"/><line x1="125" y1="1435" x2="130.5" y2="1435" stroke="#262626" stroke-width="2"/><line x1="677" y1="1435" x2="671.5" y2="1435" stroke="#262626" stroke-width="2"/><line x1="125" y1="1589.17" x2="130.5" y2="1589.17" stroke="#262626" stroke-width="2"/><line x1="677" y1="1589.17" x2="671.5" y2="1589.17" stroke="#262626" stroke-width="2"/><text transform="matrix(1 0 0 1.03 197.57 1665.5)" font-size="33" text-anchor="middle" fill="#262626">-1500</text><text transform="matrix(1 0 0 1.03 351.88 1665.5)" font-size="33" text-anchor="middle" fill="#262626">-1000</text><text transform="matrix(1 0 0 1.03 506.19 1665.5)" font-size="33" text-anchor="middle" fill="#262626">-500</text><text transform="matrix(1 0 0 1.03 660.5 1665.5)" font-size="33" text-anchor="middle" fill="#262626">0</text><text transform="matrix(1 0 0 1.03 109.2 1293.23)" font-size="33" text-anchor="end" fill="#262626">500</text><text transform="matrix(1 0 0 1.03 109.2 1447.4)" font-size="33" text-anchor="end" fill="#262626">0</text><text transform="matrix(1 0 0 1.03 109.2 1601.57)" font-size="33" text-anchor="end" fill="#262626">-500</text><text transform="matrix(1 0 0 1.03 399.5 1711.8)" font-size="36.3" text-anchor="middle" fill="#262626">East [m]</text><text transform="matrix(0 -1 1.03 0 25.5 1435)" font-size="36.3" text-anchor="middle" fill="#262626">North [m]</text>
<g fill="#0000FF">
<line x1="294.75" y1="1737.4" x2="294.75" y2="2172.4" stroke="#dcdcdc" stroke-width="1.8"/><line x1="403.5" y1="1737.4" x2="403.5" y2="2172.4" stroke="#dcdcdc" stroke-width="1.8"/><line x1="512.25" y1="1737.4" x2="512.25" y2="2172.4" stroke="#dcdcdc" stroke-width="1.8"/><line x1="186" y1="2063.65" x2="621" y2="2063.65" stroke="#dcdcdc" stroke-width="1.8"/><line x1="186" y1="1954.9" x2="621" y2="1954.9" stroke="#dcdcdc" stroke-width="1.8"/><line x1="186" y1="1846.15" x2="621" y2="1846.15" stroke="#dcdcdc" stroke-width="1.8"/><g clip-path="url(#csc10)"><polygon points="356.8,1949.48 361.34,1944.38 367.01,1941.54 376.64,1943.81 375.51,1938.14 384.01,1937.01 386.28,1934.17 401.02,1932.47 406.69,1931.34 409.52,1926.8 415.19,1930.2 418.59,1939.84 423.7,1937.01 426.53,1931.34 431.63,1934.17 430.5,1938.71 436.73,1940.41 440.7,1945.51 450,1951.75 450,1958.55 443.54,1956.28 436.17,1956.28 435.03,1963.08 441.84,1967.62 441.84,1982.36 436.17,1985.19 430.5,1986.89 423.7,1986.89 418.03,1985.19 415.19,1994.83 412.36,2003.9 406.69,2004.47 404.42,2000.5 399.89,2002.77 396.49,1993.7 394.78,1997.66 389.68,1999.37 385.15,2000.5 384.01,2007.3 379.48,2007.3 374.94,2000.5 368.71,1998.8 367.01,1993.7 361.34,1994.83 359.07,1991.43 361.34,1988.59 369.84,1986.89 373.81,1985.19 368.14,1978.39 361.34,1976.12 360.77,1972.72 365.87,1969.89 360.2,1966.49 355.67,1958.55"/><circle cx="336.75" cy="1885.52" r="3.6"/><circle cx="352.96" cy="1897.62" r="3.6"/><circle cx="372.04" cy="1894.5" r="3.6"/><circle cx="341.49" cy="1907.6" r="3.6"/><circle cx="341.49" cy="1917.95" r="3.6"/><circle cx="363.94" cy="1914.21" r="3.6"/><circle cx="357.7" cy="1921.69" r="3.6"/><circle cx="440.26" cy="1903.61" r="3.6"/><circle cx="410.08" cy="1917.95" r="3.6"/><circle cx="389.5" cy="1926.93" r="3.6"/><circle cx="399.11" cy="1926.06" r="3.6"/><circle cx="409.71" cy="1929.17" r="3.6"/><circle cx="370.42" cy="1929.17" r="3.6"/><circle cx="375.41" cy="1932.04" r="3.6"/><circle cx="428.17" cy="1934.16" r="3.6"/><circle cx="435.28" cy="1941.65" r="3.6"/><circle cx="445" cy="1940.15" r="3.6"/><circle cx="442.14" cy="1949.75" r="3.6"/><circle cx="448.37" cy="1953.49" r="3.6"/><circle cx="447.75" cy="1955.99" r="3.6"/><circle cx="366.06" cy="1943.52" r="3.6"/><circle cx="359.82" cy="1948.51" r="3.6"/><circle cx="357.33" cy="1956.61" r="3.6"/><circle cx="353.58" cy="1963.47" r="3.6"/><circle cx="322.4" cy="1963.22" r="3.6"/><circle cx="334.25" cy="1971.33" r="3.6"/><circle cx="349.84" cy="1979.44" r="3.6"/><circle cx="341.11" cy="1981.56" r="3.6"/><circle cx="330.51" cy="1982.8" r="3.6"/><circle cx="336.75" cy="1985.92" r="3.6"/><circle cx="347.97" cy="1988.42" r="3.6"/><circle cx="339.87" cy="1991.53" r="3.6"/><circle cx="334.88" cy="1993.4" r="3.6"/><circle cx="329.89" cy="1996.52" r="3.6"/><circle cx="337.37" cy="1996.52" r="3.6"/><circle cx="329.89" cy="2003.38" r="3.6"/><circle cx="351.09" cy="1996.52" r="3.6"/><circle cx="349.84" cy="1999.64" r="3.6"/><circle cx="354.21" cy="2005.25" r="3.6"/><circle cx="359.82" cy="2002.76" r="3.6"/><circle cx="366.68" cy="2006.13" r="3.6"/><circle cx="361.69" cy="1991.53" r="3.6"/><circle cx="369.8" cy="1994.65" r="3.6"/><circle cx="381.65" cy="2004.63" r="3.6"/><circle cx="400.98" cy="2000.89" r="3.6"/><circle cx="409.71" cy="2002.14" r="3.6"/><circle cx="427.54" cy="1994.4" r="3.6"/><circle cx="445.25" cy="1967.84" r="3.6"/><circle cx="450.87" cy="1978.19" r="3.6"/><circle cx="453.98" cy="1975.94" r="3.6"/><circle cx="462.46" cy="1983.18" r="3.6"/><circle cx="448.99" cy="1999.64" r="3.6"/><circle cx="445.88" cy="2003.38" r="3.6"/><circle cx="396.61" cy="2023.34" r="3.6"/><circle cx="363.56" cy="1974.07" r="3.6"/><circle cx="423.43" cy="1984.05" r="3.6"/><circle cx="430.91" cy="1984.67" r="3.6"/><circle cx="439.02" cy="1982.8" r="3.6"/><circle cx="413.45" cy="1987.17" r="3.6"/><circle cx="409.71" cy="1995.9" r="3.6"/><circle cx="389.75" cy="1995.9" r="3.6"/><circle cx="374.79" cy="1995.9" r="3.6"/><circle cx="367.3" cy="1989.66" r="3.6"/><circle cx="362.31" cy="1980.93" r="3.6"/><circle cx="396.6" cy="2023.5" r="3.6"/><circle cx="319.3" cy="2040" r="3.6"/><circle cx="331.8" cy="2053" r="3.6"/><circle cx="329.9" cy="2056.4" r="3.6"/><circle cx="328" cy="2066.1" r="3.6"/><circle cx="328" cy="2069.9" r="3.6"/><circle cx="334.3" cy="2068.4" r="3.6"/><circle cx="333.6" cy="2073.9" r="3.6"/><circle cx="320.3" cy="2074.9" r="3.6"/><circle cx="310.3" cy="2098.8" r="3.6"/><circle cx="426.5" cy="2063" r="3.6"/><circle cx="429" cy="2086.1" r="3.6"/><circle cx="434.7" cy="2087.3" r="3.6"/><circle cx="437.8" cy="2083" r="3.6"/><circle cx="439" cy="2088.3" r="3.6"/><circle cx="455.9" cy="2087.1" r="3.6"/><circle cx="449.4" cy="2095.7" r="3.6"/><circle cx="450.2" cy="2107.7" r="3.6"/><circle cx="453.1" cy="2117.3" r="3.6"/><circle cx="254.5" cy="1740.4" r="3.6"/></g><rect x="186" y="1737.4" width="435" height="435" fill="none" stroke="#262626" stroke-width="2"/><line x1="186" y1="1737.4" x2="186" y2="1742.9" stroke="#262626" stroke-width="2"/><line x1="186" y1="2172.4" x2="186" y2="2166.9" stroke="#262626" stroke-width="2"/><line x1="294.75" y1="1737.4" x2="294.75" y2="1742.9" stroke="#262626" stroke-width="2"/><line x1="294.75" y1="2172.4" x2="294.75" y2="2166.9" stroke="#262626" stroke-width="2"/><line x1="403.5" y1="1737.4" x2="403.5" y2="1742.9" stroke="#262626" stroke-width="2"/><line x1="403.5" y1="2172.4" x2="403.5" y2="2166.9" stroke="#262626" stroke-width="2"/><line x1="512.25" y1="1737.4" x2="512.25" y2="1742.9" stroke="#262626" stroke-width="2"/><line x1="512.25" y1="2172.4" x2="512.25" y2="2166.9" stroke="#262626" stroke-width="2"/><line x1="621" y1="1737.4" x2="621" y2="1742.9" stroke="#262626" stroke-width="2"/><line x1="621" y1="2172.4" x2="621" y2="2166.9" stroke="#262626" stroke-width="2"/><line x1="186" y1="2172.4" x2="191.5" y2="2172.4" stroke="#262626" stroke-width="2"/><line x1="621" y1="2172.4" x2="615.5" y2="2172.4" stroke="#262626" stroke-width="2"/><line x1="186" y1="2063.65" x2="191.5" y2="2063.65" stroke="#262626" stroke-width="2"/><line x1="621" y1="2063.65" x2="615.5" y2="2063.65" stroke="#262626" stroke-width="2"/><line x1="186" y1="1954.9" x2="191.5" y2="1954.9" stroke="#262626" stroke-width="2"/><line x1="621" y1="1954.9" x2="615.5" y2="1954.9" stroke="#262626" stroke-width="2"/><line x1="186" y1="1846.15" x2="191.5" y2="1846.15" stroke="#262626" stroke-width="2"/><line x1="621" y1="1846.15" x2="615.5" y2="1846.15" stroke="#262626" stroke-width="2"/><line x1="186" y1="1737.4" x2="191.5" y2="1737.4" stroke="#262626" stroke-width="2"/><line x1="621" y1="1737.4" x2="615.5" y2="1737.4" stroke="#262626" stroke-width="2"/><text transform="matrix(1 0 0 1.03 184.5 2217.3)" font-size="33" text-anchor="middle" fill="#262626">-0.2</text><text transform="matrix(1 0 0 1.03 293.25 2217.3)" font-size="33" text-anchor="middle" fill="#262626">-0.1</text><text transform="matrix(1 0 0 1.03 402 2217.3)" font-size="33" text-anchor="middle" fill="#262626">0</text><text transform="matrix(1 0 0 1.03 510.75 2217.3)" font-size="33" text-anchor="middle" fill="#262626">0.1</text><text transform="matrix(1 0 0 1.03 619.5 2217.3)" font-size="33" text-anchor="middle" fill="#262626">0.2</text><text transform="matrix(1 0 0 1.03 170.2 2184.8)" font-size="33" text-anchor="end" fill="#262626">-0.2</text><text transform="matrix(1 0 0 1.03 170.2 2076.05)" font-size="33" text-anchor="end" fill="#262626">-0.1</text><text transform="matrix(1 0 0 1.03 170.2 1967.3)" font-size="33" text-anchor="end" fill="#262626">0</text><text transform="matrix(1 0 0 1.03 170.2 1858.55)" font-size="33" text-anchor="end" fill="#262626">0.1</text><text transform="matrix(1 0 0 1.03 170.2 1749.8)" font-size="33" text-anchor="end" fill="#262626">0.2</text><text transform="matrix(1 0 0 1.03 402 2263.3)" font-size="36.3" text-anchor="middle" fill="#262626">East error [m]</text><text transform="matrix(0 -1 1.03 0 97.5 1954.9)" font-size="36.3" text-anchor="middle" fill="#262626">North error [m]</text><text transform="matrix(1 0 0 1.03 202.3 1782.6)" font-size="36.3" fill="#000">Fixed rate: <tspan font-weight="bold">76.37</tspan>%</text>
</g>
<line x1="844.07" y1="1250" x2="844.07" y2="1620" stroke="#dcdcdc" stroke-width="1.8"/><line x1="998.38" y1="1250" x2="998.38" y2="1620" stroke="#dcdcdc" stroke-width="1.8"/><line x1="1152.69" y1="1250" x2="1152.69" y2="1620" stroke="#dcdcdc" stroke-width="1.8"/><line x1="1307" y1="1250" x2="1307" y2="1620" stroke="#dcdcdc" stroke-width="1.8"/><line x1="770" y1="1280.83" x2="1322" y2="1280.83" stroke="#dcdcdc" stroke-width="1.8"/><line x1="770" y1="1435" x2="1322" y2="1435" stroke="#dcdcdc" stroke-width="1.8"/><line x1="770" y1="1589.17" x2="1322" y2="1589.17" stroke="#dcdcdc" stroke-width="1.8"/><g clip-path="url(#ctr11)"><polyline points="1215.8,1350.3 1265.2,1349.5 1311,1349.5 1313.7,1350.5 1314.6,1354 1313.8,1381.5 1312,1422.6 1311.2,1440 1309.5,1481.1 1311.2,1505.8 1314.5,1546.9 1318.6,1588 1317.8,1604.4 1306.2,1604.4 1289.84,1600.54" fill="none" stroke="#008000" stroke-width="7.2" stroke-linecap="round" stroke-linejoin="round"/><polyline points="1276.98,1597.34 1274.95,1596.78" fill="none" stroke="#008000" stroke-width="7.2" stroke-linecap="round" stroke-linejoin="round"/><polyline points="1260.61,1592.86 1248.7,1589.6 1237.22,1586.15" fill="none" stroke="#008000" stroke-width="7.2" stroke-linecap="round" stroke-linejoin="round"/><polyline points="1221.79,1581.5 1215.8,1579.7 1183,1569.9 1150.1,1560.8 1133.71,1555.47" fill="none" stroke="#008000" stroke-width="7.2" stroke-linecap="round" stroke-linejoin="round"/><polyline points="1120.48,1551.17 1117.2,1550.1 1103,1546.1 1089.3,1542.7 1079,1541.2 1067.9,1541 1051,1543.3 1035,1547.7 995.2,1553.5 968.2,1558.7 960.2,1557.5 942.8,1556.7 926.9,1551.9 911,1549.5 888.8,1540.8 872.9,1536 855.5,1525.7 839.6,1516.2 833.3,1509.8 814.2,1492.4 806.3,1487.6 790.4,1484.4 776.1,1479.7 785.6,1459 796,1440 804.7,1418.3 812.6,1410.3 819,1402.4 827.7,1392.1 831.7,1392.9 834.5,1393.57" fill="none" stroke="#008000" stroke-width="7.2" stroke-linecap="round" stroke-linejoin="round"/><polyline points="851.78,1399.33 904.7,1413.5 917.4,1402.4 931.7,1386.5 947.5,1367.5 960.2,1350 971.3,1326.2 987.2,1294.4 993.6,1277.8 1001.5,1272.2 1012.6,1262.7 1028.5,1276.2 1035,1277.9 1051.4,1297.7 1071.2,1314.1 1097.5,1327.3 1112.3,1335.5 1130.3,1342.9 1153.4,1348.6 1174.7,1350.6 1215.8,1350.3" fill="none" stroke="#008000" stroke-width="7.2" stroke-linecap="round" stroke-linejoin="round"/><ellipse cx="1308.5" cy="1431.5" rx="4.5" ry="7.5" fill="#008000"/><polyline points="791.2,1448.77 796,1440 804.7,1418.3 805.38,1417.61" fill="none" stroke="#FFA500" stroke-width="7.2" stroke-linecap="round" stroke-linejoin="round"/><polyline points="817.97,1403.67 817.97,1403.67" fill="none" stroke="#FFA500" stroke-width="7.2" stroke-linecap="round" stroke-linejoin="round"/><polyline points="827.86,1392.13 831.7,1392.9 834.5,1393.57" fill="none" stroke="#FFA500" stroke-width="7.2" stroke-linecap="round" stroke-linejoin="round"/><polyline points="836.25,1393.98 836.25,1393.98" fill="none" stroke="#FFA500" stroke-width="7.2" stroke-linecap="round" stroke-linejoin="round"/><polyline points="884.48,1408.09 884.48,1408.09" fill="none" stroke="#FFA500" stroke-width="7.2" stroke-linecap="round" stroke-linejoin="round"/><polyline points="1131.79,1343.27 1131.79,1343.27" fill="none" stroke="#FFA500" stroke-width="7.2" stroke-linecap="round" stroke-linejoin="round"/><polyline points="777.35,1476.97 785.6,1459 794.68,1442.4" fill="none" stroke="#FFA500" stroke-width="7.2" stroke-linecap="round" stroke-linejoin="round"/><polyline points="869.97,1534.26 855.5,1525.7 839.6,1516.2 833.3,1509.8 814.2,1492.4 806.3,1487.6 790.4,1484.4 778.95,1480.64" fill="none" stroke="#FFA500" stroke-width="7.2" stroke-linecap="round" stroke-linejoin="round"/><polyline points="955.67,1557.29 945.8,1556.84" fill="none" stroke="#FFA500" stroke-width="7.2" stroke-linecap="round" stroke-linejoin="round"/><polyline points="1120.48,1551.17 1117.2,1550.1 1103,1546.1 1092.42,1543.47" fill="none" stroke="#FFA500" stroke-width="7.2" stroke-linecap="round" stroke-linejoin="round"/><polyline points="1221.79,1581.5 1215.8,1579.7 1183,1569.9 1150.1,1560.8 1133.71,1555.47" fill="none" stroke="#FFA500" stroke-width="7.2" stroke-linecap="round" stroke-linejoin="round"/><polyline points="1260.61,1592.86 1248.7,1589.6 1237.22,1586.15" fill="none" stroke="#FFA500" stroke-width="7.2" stroke-linecap="round" stroke-linejoin="round"/><polyline points="1276.98,1597.34 1274.95,1596.78" fill="none" stroke="#FFA500" stroke-width="7.2" stroke-linecap="round" stroke-linejoin="round"/><polyline points="1314.8,1604.4 1306.2,1604.4 1289.84,1600.54" fill="none" stroke="#FFA500" stroke-width="7.2" stroke-linecap="round" stroke-linejoin="round"/><polyline points="1314.96,1551.47 1318.6,1588 1317.95,1601.4" fill="none" stroke="#FFA500" stroke-width="7.2" stroke-linecap="round" stroke-linejoin="round"/><polyline points="1311.57,1510.38 1312.53,1522.38" fill="none" stroke="#FFA500" stroke-width="7.2" stroke-linecap="round" stroke-linejoin="round"/><polyline points="812.99,1409.82 813.62,1409.04" fill="none" stroke="#0000FF" stroke-width="7.2" stroke-linecap="round" stroke-linejoin="round"/><circle cx="834.8" cy="1393.7" r="3.75" fill="#0000FF"/><circle cx="1103.2" cy="1546.5" r="3.75" fill="#0000FF"/><circle cx="1113.9" cy="1549.3" r="3.75" fill="#0000FF"/><circle cx="1121.3" cy="1551.8" r="3.75" fill="#0000FF"/><circle cx="1137.7" cy="1556.4" r="3.75" fill="#0000FF"/><circle cx="1157" cy="1562" r="3.75" fill="#0000FF"/><circle cx="1175.1" cy="1566.9" r="3.75" fill="#0000FF"/><circle cx="1200.7" cy="1574.5" r="3.75" fill="#0000FF"/><circle cx="1211.7" cy="1576.4" r="3.75" fill="#0000FF"/><circle cx="1221.6" cy="1579.7" r="3.75" fill="#0000FF"/><circle cx="1238.8" cy="1585.5" r="3.75" fill="#0000FF"/><circle cx="1250.4" cy="1589.3" r="3.75" fill="#0000FF"/><circle cx="1277.5" cy="1596.2" r="3.75" fill="#0000FF"/><circle cx="1312" cy="1517.3" r="3.75" fill="#0000FF"/></g><rect x="770" y="1250" width="552" height="370" fill="none" stroke="#262626" stroke-width="2"/><line x1="844.07" y1="1250" x2="844.07" y2="1255.5" stroke="#262626" stroke-width="2"/><line x1="844.07" y1="1620" x2="844.07" y2="1614.5" stroke="#262626" stroke-width="2"/><line x1="998.38" y1="1250" x2="998.38" y2="1255.5" stroke="#262626" stroke-width="2"/><line x1="998.38" y1="1620" x2="998.38" y2="1614.5" stroke="#262626" stroke-width="2"/><line x1="1152.69" y1="1250" x2="1152.69" y2="1255.5" stroke="#262626" stroke-width="2"/><line x1="1152.69" y1="1620" x2="1152.69" y2="1614.5" stroke="#262626" stroke-width="2"/><line x1="1307" y1="1250" x2="1307" y2="1255.5" stroke="#262626" stroke-width="2"/><line x1="1307" y1="1620" x2="1307" y2="1614.5" stroke="#262626" stroke-width="2"/><line x1="770" y1="1280.83" x2="775.5" y2="1280.83" stroke="#262626" stroke-width="2"/><line x1="1322" y1="1280.83" x2="1316.5" y2="1280.83" stroke="#262626" stroke-width="2"/><line x1="770" y1="1435" x2="775.5" y2="1435" stroke="#262626" stroke-width="2"/><line x1="1322" y1="1435" x2="1316.5" y2="1435" stroke="#262626" stroke-width="2"/><line x1="770" y1="1589.17" x2="775.5" y2="1589.17" stroke="#262626" stroke-width="2"/><line x1="1322" y1="1589.17" x2="1316.5" y2="1589.17" stroke="#262626" stroke-width="2"/><text transform="matrix(1 0 0 1.03 842.57 1665.5)" font-size="33" text-anchor="middle" fill="#262626">-1500</text><text transform="matrix(1 0 0 1.03 996.88 1665.5)" font-size="33" text-anchor="middle" fill="#262626">-1000</text><text transform="matrix(1 0 0 1.03 1151.19 1665.5)" font-size="33" text-anchor="middle" fill="#262626">-500</text><text transform="matrix(1 0 0 1.03 1305.5 1665.5)" font-size="33" text-anchor="middle" fill="#262626">0</text><text transform="matrix(1 0 0 1.03 754.2 1293.23)" font-size="33" text-anchor="end" fill="#262626">500</text><text transform="matrix(1 0 0 1.03 754.2 1447.4)" font-size="33" text-anchor="end" fill="#262626">0</text><text transform="matrix(1 0 0 1.03 754.2 1601.57)" font-size="33" text-anchor="end" fill="#262626">-500</text><text transform="matrix(1 0 0 1.03 1044.5 1711.8)" font-size="36.3" text-anchor="middle" fill="#262626">East [m]</text>
<g fill="#0000FF">
<line x1="937.05" y1="1737.4" x2="937.05" y2="2172.4" stroke="#dcdcdc" stroke-width="1.8"/><line x1="1045.8" y1="1737.4" x2="1045.8" y2="2172.4" stroke="#dcdcdc" stroke-width="1.8"/><line x1="1154.55" y1="1737.4" x2="1154.55" y2="2172.4" stroke="#dcdcdc" stroke-width="1.8"/><line x1="828.3" y1="2063.65" x2="1263.3" y2="2063.65" stroke="#dcdcdc" stroke-width="1.8"/><line x1="828.3" y1="1954.9" x2="1263.3" y2="1954.9" stroke="#dcdcdc" stroke-width="1.8"/><line x1="828.3" y1="1846.15" x2="1263.3" y2="1846.15" stroke="#dcdcdc" stroke-width="1.8"/><g clip-path="url(#csc11)"><polygon points="991.79,1962.74 996.21,1955.37 1003.58,1950.95 1009.48,1944.32 1015.37,1940.63 1024.22,1944.32 1025.69,1938.42 1021.27,1930.32 1027.16,1931.79 1037.48,1934.74 1043.38,1931.05 1050.01,1928.84 1059.59,1928.11 1064.01,1934.74 1056.64,1940.63 1066.96,1945.06 1072.11,1951.69 1071.38,1961.27 1072.11,1967.16 1081.69,1967.9 1086.12,1978.95 1083.17,1987.8 1092.01,1990.01 1098.64,1995.17 1097.91,2002.54 1090.54,1999.59 1081.69,1999.59 1072.85,2002.54 1063.27,2005.48 1053.69,1998.11 1050.01,2001.06 1044.85,2000.32 1036.01,1999.59 1027.16,1996.64 1020.53,1990.74 1019.79,1984.85 1015.37,1978.95 1009.48,1983.38 1002.11,1979.69 993.26,1978.95 988.11,1973.06"/><circle cx="1068.99" cy="1905.1" r="3.6"/><circle cx="1074.61" cy="1910.47" r="3.6"/><circle cx="1065.88" cy="1912.34" r="3.6"/><circle cx="1062.14" cy="1917.33" r="3.6"/><circle cx="1070.87" cy="1919.2" r="3.6"/><circle cx="1044.67" cy="1914.46" r="3.6"/><circle cx="1051.53" cy="1917.95" r="3.6"/><circle cx="1052.16" cy="1922.31" r="3.6"/><circle cx="1041.56" cy="1924.19" r="3.6"/><circle cx="1022.22" cy="1915.7" r="3.6"/><circle cx="1015.37" cy="1919.2" r="3.6"/><circle cx="1014.49" cy="1925.81" r="3.6"/><circle cx="1022.85" cy="1929.8" r="3.6"/><circle cx="1027.84" cy="1933.54" r="3.6"/><circle cx="1058.39" cy="1929.8" r="3.6"/><circle cx="1062.14" cy="1934.79" r="3.6"/><circle cx="1073.98" cy="1929.8" r="3.6"/><circle cx="1069.62" cy="1933.54" r="3.6"/><circle cx="1068.99" cy="1937.9" r="3.6"/><circle cx="1075.85" cy="1942.89" r="3.6"/><circle cx="1080.22" cy="1946.64" r="3.6"/><circle cx="1081.47" cy="1952.87" r="3.6"/><circle cx="1083.34" cy="1958.48" r="3.6"/><circle cx="1088.33" cy="1961.6" r="3.6"/><circle cx="1095.19" cy="1964.1" r="3.6"/><circle cx="1100.17" cy="1969.08" r="3.6"/><circle cx="1080.22" cy="1969.08" r="3.6"/><circle cx="1088.95" cy="1983.43" r="3.6"/><circle cx="1069.62" cy="1951.62" r="3.6"/><circle cx="1063.38" cy="1945.39" r="3.6"/><circle cx="998.53" cy="1944.51" r="3.6"/><circle cx="992.92" cy="1949.13" r="3.6"/><circle cx="1004.76" cy="1949.75" r="3.6"/><circle cx="982.31" cy="1947.26" r="3.6"/><circle cx="987.3" cy="1947.26" r="3.6"/><circle cx="979.82" cy="1951" r="3.6"/><circle cx="981.07" cy="1954.74" r="3.6"/><circle cx="984.19" cy="1959.98" r="3.6"/><circle cx="998.53" cy="1956.61" r="3.6"/><circle cx="994.79" cy="1962.85" r="3.6"/><circle cx="989.8" cy="1973.45" r="3.6"/><circle cx="989.8" cy="1978.44" r="3.6"/><circle cx="987.3" cy="1989.66" r="3.6"/><circle cx="991.05" cy="1984.67" r="3.6"/><circle cx="998.53" cy="1983.43" r="3.6"/><circle cx="1001.02" cy="1988.42" r="3.6"/><circle cx="1001.02" cy="1994.03" r="3.6"/><circle cx="996.66" cy="1999.02" r="3.6"/><circle cx="999.78" cy="2002.14" r="3.6"/><circle cx="999.78" cy="2004.63" r="3.6"/><circle cx="1011" cy="1982.18" r="3.6"/><circle cx="975.46" cy="1987.79" r="3.6"/><circle cx="976.7" cy="1993.4" r="3.6"/><circle cx="978.57" cy="1997.15" r="3.6"/><circle cx="977.95" cy="2002.14" r="3.6"/><circle cx="992.92" cy="2006.5" r="3.6"/><circle cx="991.67" cy="2012.11" r="3.6"/><circle cx="1013.49" cy="2012.74" r="3.6"/><circle cx="1019.73" cy="2010.24" r="3.6"/><circle cx="1017.86" cy="2003.38" r="3.6"/><circle cx="1021.6" cy="1999.64" r="3.6"/><circle cx="1039.94" cy="2009.87" r="3.6"/><circle cx="1050.29" cy="2019.6" r="3.6"/><circle cx="1055.28" cy="2024.58" r="3.6"/><circle cx="1017.86" cy="2028.08" r="3.6"/><circle cx="988.8" cy="2023.96" r="3.6"/><circle cx="991.05" cy="2026.46" r="3.6"/><circle cx="987.3" cy="2030.82" r="3.6"/><circle cx="981.07" cy="2035.81" r="3.6"/><circle cx="975.46" cy="2036.43" r="3.6"/><circle cx="971.71" cy="2042.67" r="3.6"/><circle cx="962.98" cy="2048.53" r="3.6"/><circle cx="1000.4" cy="2033.94" r="3.6"/><circle cx="999.78" cy="2043.54" r="3.6"/><circle cx="997.28" cy="2051.4" r="3.6"/><circle cx="1058.14" cy="2050.15" r="3.6"/><circle cx="1078.35" cy="2004.63" r="3.6"/><circle cx="1075.85" cy="2007.75" r="3.6"/><circle cx="1095.81" cy="2000.89" r="3.6"/><circle cx="1061.51" cy="2003.38" r="3.6"/><circle cx="1048.42" cy="2000.89" r="3.6"/><circle cx="1034.7" cy="1999.02" r="3.6"/><circle cx="1024.72" cy="1990.91" r="3.6"/><circle cx="1092.69" cy="1997.15" r="3.6"/><circle cx="1089.57" cy="1993.4" r="3.6"/><circle cx="1084.58" cy="1989.66" r="3.6"/><circle cx="1012.25" cy="1948.51" r="3.6"/><circle cx="1019.73" cy="1942.27" r="3.6"/><circle cx="910.6" cy="1876.5" r="3.6"/><circle cx="921.5" cy="1888.9" r="3.6"/><circle cx="871.3" cy="1828.1" r="3.6"/><circle cx="897.6" cy="1839.2" r="3.6"/><circle cx="1213.3" cy="1991.5" r="3.6"/><circle cx="1131.6" cy="2005.9" r="3.6"/><circle cx="1000" cy="1973.6" r="3.6"/><circle cx="1010.8" cy="1977.9" r="3.6"/><circle cx="1006.5" cy="1969.3" r="3.6"/><circle cx="1017.3" cy="1973.6" r="3.6"/><circle cx="997.9" cy="1965" r="3.6"/><circle cx="1023.7" cy="1982.2" r="3.6"/><circle cx="1003" cy="1980" r="3.6"/><circle cx="1014" cy="1984" r="3.6"/><circle cx="989" cy="2024.5" r="3.6"/><circle cx="990.8" cy="2027.3" r="3.6"/><circle cx="1018" cy="2028.2" r="3.6"/><circle cx="1050.6" cy="2020.9" r="3.6"/><circle cx="1055.5" cy="2025.1" r="3.6"/><circle cx="1000.7" cy="2034" r="3.6"/><circle cx="986.2" cy="2031.8" r="3.6"/><circle cx="982.6" cy="2035.4" r="3.6"/><circle cx="976.3" cy="2036.7" r="3.6"/><circle cx="979" cy="2038.1" r="3.6"/><circle cx="971.7" cy="2041.8" r="3.6"/><circle cx="972.6" cy="2044.5" r="3.6"/><circle cx="962.7" cy="2048.7" r="3.6"/><circle cx="999.8" cy="2043.6" r="3.6"/><circle cx="997.1" cy="2051.7" r="3.6"/><circle cx="1058.3" cy="2050.5" r="3.6"/><circle cx="970.8" cy="2060.3" r="3.6"/><circle cx="997.1" cy="2059.9" r="3.6"/><circle cx="1002" cy="2062.6" r="3.6"/><circle cx="1003.1" cy="2069.9" r="3.6"/><circle cx="1000.4" cy="2073.5" r="3.6"/><circle cx="998.9" cy="2079.9" r="3.6"/><circle cx="996.8" cy="2083.9" r="3.6"/><circle cx="990.2" cy="2089.8" r="3.6"/><circle cx="991.7" cy="2092.6" r="3.6"/><circle cx="988.4" cy="2098" r="3.6"/><circle cx="986.2" cy="2102.5" r="3.6"/><circle cx="985.3" cy="2106.2" r="3.6"/><circle cx="1018.5" cy="2111.1" r="3.6"/><circle cx="1026.1" cy="2089.5" r="3.6"/><circle cx="1029.4" cy="2085.3" r="3.6"/><circle cx="1031.6" cy="2093.5" r="3.6"/><circle cx="1037" cy="2083.9" r="3.6"/><circle cx="1037" cy="2092.6" r="3.6"/><circle cx="1044.6" cy="2082" r="3.6"/><circle cx="1044.3" cy="2092.6" r="3.6"/><circle cx="1051.9" cy="2089.8" r="3.6"/><circle cx="1059.2" cy="2083.9" r="3.6"/><circle cx="1067.5" cy="2079.5" r="3.6"/><circle cx="1158.9" cy="2070.4" r="3.6"/></g><rect x="828.3" y="1737.4" width="435" height="435" fill="none" stroke="#262626" stroke-width="2"/><line x1="828.3" y1="1737.4" x2="828.3" y2="1742.9" stroke="#262626" stroke-width="2"/><line x1="828.3" y1="2172.4" x2="828.3" y2="2166.9" stroke="#262626" stroke-width="2"/><line x1="937.05" y1="1737.4" x2="937.05" y2="1742.9" stroke="#262626" stroke-width="2"/><line x1="937.05" y1="2172.4" x2="937.05" y2="2166.9" stroke="#262626" stroke-width="2"/><line x1="1045.8" y1="1737.4" x2="1045.8" y2="1742.9" stroke="#262626" stroke-width="2"/><line x1="1045.8" y1="2172.4" x2="1045.8" y2="2166.9" stroke="#262626" stroke-width="2"/><line x1="1154.55" y1="1737.4" x2="1154.55" y2="1742.9" stroke="#262626" stroke-width="2"/><line x1="1154.55" y1="2172.4" x2="1154.55" y2="2166.9" stroke="#262626" stroke-width="2"/><line x1="1263.3" y1="1737.4" x2="1263.3" y2="1742.9" stroke="#262626" stroke-width="2"/><line x1="1263.3" y1="2172.4" x2="1263.3" y2="2166.9" stroke="#262626" stroke-width="2"/><line x1="828.3" y1="2172.4" x2="833.8" y2="2172.4" stroke="#262626" stroke-width="2"/><line x1="1263.3" y1="2172.4" x2="1257.8" y2="2172.4" stroke="#262626" stroke-width="2"/><line x1="828.3" y1="2063.65" x2="833.8" y2="2063.65" stroke="#262626" stroke-width="2"/><line x1="1263.3" y1="2063.65" x2="1257.8" y2="2063.65" stroke="#262626" stroke-width="2"/><line x1="828.3" y1="1954.9" x2="833.8" y2="1954.9" stroke="#262626" stroke-width="2"/><line x1="1263.3" y1="1954.9" x2="1257.8" y2="1954.9" stroke="#262626" stroke-width="2"/><line x1="828.3" y1="1846.15" x2="833.8" y2="1846.15" stroke="#262626" stroke-width="2"/><line x1="1263.3" y1="1846.15" x2="1257.8" y2="1846.15" stroke="#262626" stroke-width="2"/><line x1="828.3" y1="1737.4" x2="833.8" y2="1737.4" stroke="#262626" stroke-width="2"/><line x1="1263.3" y1="1737.4" x2="1257.8" y2="1737.4" stroke="#262626" stroke-width="2"/><text transform="matrix(1 0 0 1.03 826.8 2217.3)" font-size="33" text-anchor="middle" fill="#262626">-0.2</text><text transform="matrix(1 0 0 1.03 935.55 2217.3)" font-size="33" text-anchor="middle" fill="#262626">-0.1</text><text transform="matrix(1 0 0 1.03 1044.3 2217.3)" font-size="33" text-anchor="middle" fill="#262626">0</text><text transform="matrix(1 0 0 1.03 1153.05 2217.3)" font-size="33" text-anchor="middle" fill="#262626">0.1</text><text transform="matrix(1 0 0 1.03 1261.8 2217.3)" font-size="33" text-anchor="middle" fill="#262626">0.2</text><text transform="matrix(1 0 0 1.03 812.5 2184.8)" font-size="33" text-anchor="end" fill="#262626">-0.2</text><text transform="matrix(1 0 0 1.03 812.5 2076.05)" font-size="33" text-anchor="end" fill="#262626">-0.1</text><text transform="matrix(1 0 0 1.03 812.5 1967.3)" font-size="33" text-anchor="end" fill="#262626">0</text><text transform="matrix(1 0 0 1.03 812.5 1858.55)" font-size="33" text-anchor="end" fill="#262626">0.1</text><text transform="matrix(1 0 0 1.03 812.5 1749.8)" font-size="33" text-anchor="end" fill="#262626">0.2</text><text transform="matrix(1 0 0 1.03 1044.3 2263.3)" font-size="36.3" text-anchor="middle" fill="#262626">East error [m]</text><text transform="matrix(1 0 0 1.03 858.4 1780.8)" font-size="36.3" fill="#000">Fixed rate: <tspan font-weight="bold">71.7</tspan>%</text>
</g>
<line x1="1491.07" y1="1250" x2="1491.07" y2="1620" stroke="#dcdcdc" stroke-width="1.8"/><line x1="1645.38" y1="1250" x2="1645.38" y2="1620" stroke="#dcdcdc" stroke-width="1.8"/><line x1="1799.69" y1="1250" x2="1799.69" y2="1620" stroke="#dcdcdc" stroke-width="1.8"/><line x1="1954" y1="1250" x2="1954" y2="1620" stroke="#dcdcdc" stroke-width="1.8"/><line x1="1417" y1="1280.83" x2="1969" y2="1280.83" stroke="#dcdcdc" stroke-width="1.8"/><line x1="1417" y1="1435" x2="1969" y2="1435" stroke="#dcdcdc" stroke-width="1.8"/><line x1="1417" y1="1589.17" x2="1969" y2="1589.17" stroke="#dcdcdc" stroke-width="1.8"/><g clip-path="url(#ctr12)"><polyline points="1862.8,1350.3 1912.2,1349.5 1958,1349.5 1960.7,1350.5 1961.6,1354 1960.8,1381.5 1959,1422.6 1958.2,1440 1956.5,1481.1 1958.2,1505.8 1961.5,1546.9 1965.6,1588 1964.8,1604.4 1953.2,1604.4 1928.6,1598.6 1923.75,1597.27" fill="none" stroke="#008000" stroke-width="7.2" stroke-linecap="round" stroke-linejoin="round"/><polyline points="1911.77,1594 1895.7,1589.6 1889.72,1587.8" fill="none" stroke="#008000" stroke-width="7.2" stroke-linecap="round" stroke-linejoin="round"/><polyline points="1878.6,1584.46 1867.98,1581.26" fill="none" stroke="#008000" stroke-width="7.2" stroke-linecap="round" stroke-linejoin="round"/><polyline points="1856.68,1577.87 1830,1569.9 1797.1,1560.8 1796.14,1560.49" fill="none" stroke="#008000" stroke-width="7.2" stroke-linecap="round" stroke-linejoin="round"/><polyline points="1784.42,1556.68 1764.2,1550.1 1750,1546.1 1736.3,1542.7 1726,1541.2 1714.9,1541 1698,1543.3 1682,1547.7 1642.2,1553.5 1615.2,1558.7 1607.2,1557.5 1589.8,1556.7 1573.9,1551.9 1558,1549.5 1535.8,1540.8 1519.9,1536 1502.5,1525.7 1486.6,1516.2 1480.3,1509.8 1461.2,1492.4 1453.3,1487.6 1437.4,1484.4 1423.1,1479.7 1432.6,1459 1443,1440 1451.7,1418.3 1459.6,1410.3 1466,1402.4 1474.7,1392.1 1478.7,1392.9 1485,1394.4 1495.3,1398.4 1551.7,1413.5 1564.4,1402.4 1578.7,1386.5 1594.5,1367.5 1607.2,1350 1618.3,1326.2 1634.2,1294.4 1640.6,1277.8 1648.5,1272.2 1659.6,1262.7 1675.5,1276.2 1682,1277.9 1698.4,1297.7 1718.2,1314.1 1744.5,1327.3 1759.3,1335.5 1777.3,1342.9 1800.4,1348.6 1821.7,1350.6 1862.8,1350.3" fill="none" stroke="#008000" stroke-width="7.2" stroke-linecap="round" stroke-linejoin="round"/><ellipse cx="1955.5" cy="1431.5" rx="4.5" ry="7.5" fill="#008000"/><polyline points="1438.2,1448.77 1443,1440 1451.7,1418.3 1459.6,1410.3 1466,1402.4 1467.99,1400.04" fill="none" stroke="#FFA500" stroke-width="7.2" stroke-linecap="round" stroke-linejoin="round"/><polyline points="1478.56,1392.87 1478.7,1392.9 1480.41,1393.31" fill="none" stroke="#FFA500" stroke-width="7.2" stroke-linecap="round" stroke-linejoin="round"/><polyline points="1531.11,1407.99 1531.11,1407.99" fill="none" stroke="#FFA500" stroke-width="7.2" stroke-linecap="round" stroke-linejoin="round"/><polyline points="1774.26,1341.65 1774.26,1341.65" fill="none" stroke="#FFA500" stroke-width="7.2" stroke-linecap="round" stroke-linejoin="round"/><polyline points="1960.92,1377.35 1960.92,1377.35" fill="none" stroke="#FFA500" stroke-width="7.2" stroke-linecap="round" stroke-linejoin="round"/><polyline points="1959.83,1403.56 1959.83,1403.56" fill="none" stroke="#FFA500" stroke-width="7.2" stroke-linecap="round" stroke-linejoin="round"/><polyline points="1424.35,1476.97 1432.6,1459 1441.68,1442.4" fill="none" stroke="#FFA500" stroke-width="7.2" stroke-linecap="round" stroke-linejoin="round"/><polyline points="1466.04,1496.81 1461.2,1492.4 1453.3,1487.6 1437.4,1484.4 1432.68,1482.85" fill="none" stroke="#FFA500" stroke-width="7.2" stroke-linecap="round" stroke-linejoin="round"/><polyline points="1483.03,1512.57 1483.03,1512.57" fill="none" stroke="#FFA500" stroke-width="7.2" stroke-linecap="round" stroke-linejoin="round"/><polyline points="1503.75,1526.44 1502.5,1525.7 1501.42,1525.06" fill="none" stroke="#FFA500" stroke-width="7.2" stroke-linecap="round" stroke-linejoin="round"/><polyline points="1588.76,1556.39 1588.76,1556.39" fill="none" stroke="#FFA500" stroke-width="7.2" stroke-linecap="round" stroke-linejoin="round"/><polyline points="1610.21,1557.95 1610.21,1557.95" fill="none" stroke="#FFA500" stroke-width="7.2" stroke-linecap="round" stroke-linejoin="round"/><polyline points="1784.42,1556.68 1764.2,1550.1 1750,1546.1 1738.86,1543.33" fill="none" stroke="#FFA500" stroke-width="7.2" stroke-linecap="round" stroke-linejoin="round"/><polyline points="1856.68,1577.87 1830,1569.9 1797.1,1560.8 1796.14,1560.49" fill="none" stroke="#FFA500" stroke-width="7.2" stroke-linecap="round" stroke-linejoin="round"/><polyline points="1878.6,1584.46 1867.98,1581.26" fill="none" stroke="#FFA500" stroke-width="7.2" stroke-linecap="round" stroke-linejoin="round"/><polyline points="1911.77,1594 1895.7,1589.6 1889.72,1587.8" fill="none" stroke="#FFA500" stroke-width="7.2" stroke-linecap="round" stroke-linejoin="round"/><polyline points="1962.26,1604.4 1953.2,1604.4 1937.67,1600.74" fill="none" stroke="#FFA500" stroke-width="7.2" stroke-linecap="round" stroke-linejoin="round"/><polyline points="1958.52,1509.73 1961.5,1546.9 1965.6,1588 1964.97,1600.95" fill="none" stroke="#FFA500" stroke-width="7.2" stroke-linecap="round" stroke-linejoin="round"/><polyline points="1478.08,1507.78 1471.31,1501.61" fill="none" stroke="#0000FF" stroke-width="7.2" stroke-linecap="round" stroke-linejoin="round"/><circle cx="1458" cy="1411.1" r="3.75" fill="#0000FF"/><polyline points="1488.07,1395.59 1492.23,1397.21" fill="none" stroke="#0000FF" stroke-width="7.2" stroke-linecap="round" stroke-linejoin="round"/><circle cx="1780.8" cy="1343.4" r="3.75" fill="#0000FF"/><polyline points="1960.56,1386.97 1960.18,1395.65" fill="none" stroke="#0000FF" stroke-width="7.2" stroke-linecap="round" stroke-linejoin="round"/><circle cx="1753.8" cy="1547" r="3.75" fill="#0000FF"/><circle cx="1761.7" cy="1549.4" r="3.75" fill="#0000FF"/><circle cx="1770" cy="1551.8" r="3.75" fill="#0000FF"/><circle cx="1775.9" cy="1553.5" r="3.75" fill="#0000FF"/><circle cx="1784.5" cy="1556.2" r="3.75" fill="#0000FF"/><circle cx="1801.2" cy="1560.8" r="3.75" fill="#0000FF"/><circle cx="1808.5" cy="1563.3" r="3.75" fill="#0000FF"/><circle cx="1820" cy="1566" r="3.75" fill="#0000FF"/><polyline points="1832.37,1570.61 1830,1569.9 1828.46,1569.47" fill="none" stroke="#0000FF" stroke-width="7.2" stroke-linecap="round" stroke-linejoin="round"/><polyline points="1856.68,1577.87 1849.35,1575.68" fill="none" stroke="#0000FF" stroke-width="7.2" stroke-linecap="round" stroke-linejoin="round"/><polyline points="1878.6,1584.46 1867.98,1581.26" fill="none" stroke="#0000FF" stroke-width="7.2" stroke-linecap="round" stroke-linejoin="round"/><circle cx="1901.6" cy="1590.2" r="3.75" fill="#0000FF"/><circle cx="1913.8" cy="1593.5" r="3.75" fill="#0000FF"/><polyline points="1931.97,1599.39 1928.6,1598.6 1923.75,1597.27" fill="none" stroke="#0000FF" stroke-width="7.2" stroke-linecap="round" stroke-linejoin="round"/><circle cx="1943.2" cy="1601.6" r="3.75" fill="#0000FF"/><polyline points="1958.92,1514.73 1959.22,1518.48" fill="none" stroke="#0000FF" stroke-width="7.2" stroke-linecap="round" stroke-linejoin="round"/><circle cx="1960.4" cy="1549.4" r="3.75" fill="#0000FF"/><circle cx="1962.5" cy="1569.8" r="3.75" fill="#0000FF"/><circle cx="1964.4" cy="1595.9" r="3.75" fill="#0000FF"/></g><rect x="1417" y="1250" width="552" height="370" fill="none" stroke="#262626" stroke-width="2"/><line x1="1491.07" y1="1250" x2="1491.07" y2="1255.5" stroke="#262626" stroke-width="2"/><line x1="1491.07" y1="1620" x2="1491.07" y2="1614.5" stroke="#262626" stroke-width="2"/><line x1="1645.38" y1="1250" x2="1645.38" y2="1255.5" stroke="#262626" stroke-width="2"/><line x1="1645.38" y1="1620" x2="1645.38" y2="1614.5" stroke="#262626" stroke-width="2"/><line x1="1799.69" y1="1250" x2="1799.69" y2="1255.5" stroke="#262626" stroke-width="2"/><line x1="1799.69" y1="1620" x2="1799.69" y2="1614.5" stroke="#262626" stroke-width="2"/><line x1="1954" y1="1250" x2="1954" y2="1255.5" stroke="#262626" stroke-width="2"/><line x1="1954" y1="1620" x2="1954" y2="1614.5" stroke="#262626" stroke-width="2"/><line x1="1417" y1="1280.83" x2="1422.5" y2="1280.83" stroke="#262626" stroke-width="2"/><line x1="1969" y1="1280.83" x2="1963.5" y2="1280.83" stroke="#262626" stroke-width="2"/><line x1="1417" y1="1435" x2="1422.5" y2="1435" stroke="#262626" stroke-width="2"/><line x1="1969" y1="1435" x2="1963.5" y2="1435" stroke="#262626" stroke-width="2"/><line x1="1417" y1="1589.17" x2="1422.5" y2="1589.17" stroke="#262626" stroke-width="2"/><line x1="1969" y1="1589.17" x2="1963.5" y2="1589.17" stroke="#262626" stroke-width="2"/><text transform="matrix(1 0 0 1.03 1489.57 1665.5)" font-size="33" text-anchor="middle" fill="#262626">-1500</text><text transform="matrix(1 0 0 1.03 1643.88 1665.5)" font-size="33" text-anchor="middle" fill="#262626">-1000</text><text transform="matrix(1 0 0 1.03 1798.19 1665.5)" font-size="33" text-anchor="middle" fill="#262626">-500</text><text transform="matrix(1 0 0 1.03 1952.5 1665.5)" font-size="33" text-anchor="middle" fill="#262626">0</text><text transform="matrix(1 0 0 1.03 1401.2 1293.23)" font-size="33" text-anchor="end" fill="#262626">500</text><text transform="matrix(1 0 0 1.03 1401.2 1447.4)" font-size="33" text-anchor="end" fill="#262626">0</text><text transform="matrix(1 0 0 1.03 1401.2 1601.57)" font-size="33" text-anchor="end" fill="#262626">-500</text><text transform="matrix(1 0 0 1.03 1691.5 1711.8)" font-size="36.3" text-anchor="middle" fill="#262626">East [m]</text>
<g fill="#0000FF">
<line x1="1579.65" y1="1737.4" x2="1579.65" y2="2172.4" stroke="#dcdcdc" stroke-width="1.8"/><line x1="1688.4" y1="1737.4" x2="1688.4" y2="2172.4" stroke="#dcdcdc" stroke-width="1.8"/><line x1="1797.15" y1="1737.4" x2="1797.15" y2="2172.4" stroke="#dcdcdc" stroke-width="1.8"/><line x1="1470.9" y1="2063.65" x2="1905.9" y2="2063.65" stroke="#dcdcdc" stroke-width="1.8"/><line x1="1470.9" y1="1954.9" x2="1905.9" y2="1954.9" stroke="#dcdcdc" stroke-width="1.8"/><line x1="1470.9" y1="1846.15" x2="1905.9" y2="1846.15" stroke="#dcdcdc" stroke-width="1.8"/><g clip-path="url(#csc12)"><polygon points="1647.94,1935.51 1657.01,1929.27 1658.71,1921.34 1663.81,1923.04 1667.21,1929.27 1672.88,1931.54 1675.15,1925.87 1680.82,1917.37 1691.02,1916.24 1700.09,1917.94 1700.66,1926.44 1706.89,1925.87 1714.26,1929.84 1717.1,1937.21 1725.03,1940.05 1729,1946.28 1727.3,1953.08 1736.37,1957.05 1740,1961.02 1740,1969.52 1733.54,1968.39 1728.44,1964.42 1722.2,1966.69 1723.9,1971.22 1719.37,1973.49 1715.96,1972.36 1718.23,1980.86 1713.7,1986.53 1721.63,1989.37 1720.5,1995.03 1713.7,1998.44 1705.19,1999.57 1698.96,1998.44 1693.29,1992.77 1689.89,1990.5 1696.69,1985.96 1696.12,1978.03 1692.15,1980.86 1692.15,1985.4 1686.49,1986.53 1684.22,1983.7 1677.41,1979.16 1671.75,1972.36 1664.94,1966.69 1661.54,1970.09 1656.44,1966.69 1656.44,1962.15 1661.54,1958.19 1655.87,1954.22 1655.31,1946.85 1648.5,1942.31"/><polygon points="1535.42,1941.77 1540.86,1936.33 1553.56,1934.51 1559,1937.23 1568.98,1932.7 1575.33,1937.23 1576.69,1941.77 1576.24,1949.02 1578.96,1954.47 1574.42,1956.28 1570.79,1955.37 1566.26,1953.56 1563.54,1949.02 1558.1,1947.21 1553.56,1949.02 1548.12,1955.37 1543.58,1949.93 1538.14,1946.3"/><circle cx="1658.69" cy="1883.7" r="3.6"/><circle cx="1684.86" cy="1890.91" r="3.6"/><circle cx="1792.36" cy="1906.32" r="3.6"/><circle cx="1762.74" cy="1916.33" r="3.6"/><circle cx="1646.08" cy="1914.39" r="3.6"/><circle cx="1648.99" cy="1926.03" r="3.6"/><circle cx="1661.16" cy="1920.32" r="3.6"/><circle cx="1675.17" cy="1919.56" r="3.6"/><circle cx="1696.17" cy="1909.76" r="3.6"/><circle cx="1699.94" cy="1908.69" r="3.6"/><circle cx="1713.73" cy="1912.24" r="3.6"/><circle cx="1714.48" cy="1918.16" r="3.6"/><circle cx="1722.02" cy="1933.57" r="3.6"/><circle cx="1726.33" cy="1944.02" r="3.6"/><circle cx="1726.87" cy="1949.4" r="3.6"/><circle cx="1736.56" cy="1960.17" r="3.6"/><circle cx="1733.87" cy="1966.1" r="3.6"/><circle cx="1740.33" cy="1967.5" r="3.6"/><circle cx="1754.33" cy="1970.08" r="3.6"/><circle cx="1746.04" cy="1974.71" r="3.6"/><circle cx="1738.72" cy="1975.25" r="3.6"/><circle cx="1734.95" cy="1978.48" r="3.6"/><circle cx="1737.1" cy="1984.95" r="3.6"/><circle cx="1725.79" cy="1977.94" r="3.6"/><circle cx="1726.87" cy="1986.02" r="3.6"/><circle cx="1721.48" cy="1970.94" r="3.6"/><circle cx="1719.33" cy="1988.18" r="3.6"/><circle cx="1720.94" cy="1990.87" r="3.6"/><circle cx="1716.1" cy="1993.02" r="3.6"/><circle cx="1711.25" cy="1997.66" r="3.6"/><circle cx="1701.56" cy="1997.33" r="3.6"/><circle cx="1693.48" cy="1990.33" r="3.6"/><circle cx="1691.86" cy="1999.81" r="3.6"/><circle cx="1695.09" cy="2004.33" r="3.6"/><circle cx="1696.17" cy="2009.18" r="3.6"/><circle cx="1705.86" cy="2007.03" r="3.6"/><circle cx="1703.17" cy="2011.87" r="3.6"/><circle cx="1740.12" cy="2006.49" r="3.6"/><circle cx="1659.55" cy="1966.64" r="3.6"/><circle cx="1657.39" cy="1963.4" r="3.6"/><circle cx="1671.4" cy="1986.02" r="3.6"/><circle cx="1670.32" cy="1995.18" r="3.6"/><circle cx="1675.17" cy="1995.5" r="3.6"/><circle cx="1652.76" cy="2000.56" r="3.6"/><circle cx="1646.62" cy="2011.87" r="3.6"/><circle cx="1668.16" cy="2019.95" r="3.6"/><circle cx="1670.86" cy="2020.49" r="3.6"/><circle cx="1664.39" cy="2032.88" r="3.6"/><circle cx="1666.55" cy="2040.2" r="3.6"/><circle cx="1685.4" cy="2027.49" r="3.6"/><circle cx="1691.32" cy="2030.72" r="3.6"/><circle cx="1698.32" cy="2023.18" r="3.6"/><circle cx="1700.48" cy="2028.03" r="3.6"/><circle cx="1698.32" cy="2033.42" r="3.6"/><circle cx="1702.09" cy="2038.26" r="3.6"/><circle cx="1690.78" cy="2041.5" r="3.6"/><circle cx="1722.56" cy="2027.28" r="3.6"/><circle cx="1720.4" cy="2033.42" r="3.6"/><circle cx="1718.25" cy="2037.73" r="3.6"/><circle cx="1739.25" cy="2038.26" r="3.6"/><circle cx="1732.79" cy="2044.73" r="3.6"/><circle cx="1644.47" cy="2040.96" r="3.6"/><circle cx="1647.7" cy="2043.11" r="3.6"/><circle cx="1656.32" cy="2045.26" r="3.6"/><circle cx="1642.31" cy="2046.88" r="3.6"/><circle cx="1687.55" cy="1983.87" r="3.6"/><circle cx="1685.4" cy="1981.71" r="3.6"/><circle cx="1560.36" cy="1957.19" r="3.6"/><circle cx="1561.72" cy="1963.54" r="3.6"/><circle cx="1571.7" cy="1962.63" r="3.6"/><circle cx="1559.91" cy="1967.17" r="3.6"/><circle cx="1567.17" cy="1971.7" r="3.6"/><circle cx="1564.44" cy="1973.06" r="3.6"/><circle cx="1563.08" cy="1979.68" r="3.6"/><circle cx="1548.12" cy="1955.37" r="3.6"/><circle cx="1577.14" cy="1954.47" r="3.6"/><circle cx="1619.77" cy="1968.98" r="3.6"/><circle cx="1616.42" cy="1976.24" r="3.6"/><circle cx="1625.49" cy="1979.86" r="3.6"/><circle cx="1624.31" cy="1983.49" r="3.6"/><circle cx="1618.14" cy="1986.21" r="3.6"/><circle cx="1624.76" cy="1986.67" r="3.6"/><circle cx="1622.49" cy="1994.83" r="3.6"/><circle cx="1629.57" cy="1999.37" r="3.6"/><circle cx="1607.53" cy="1998" r="3.6"/><circle cx="1620.68" cy="2002.09" r="3.6"/><circle cx="1624.31" cy="2005.26" r="3.6"/><circle cx="1627.48" cy="2007.07" r="3.6"/><circle cx="1637.01" cy="2007.98" r="3.6"/><circle cx="1635.19" cy="2012.52" r="3.6"/><circle cx="1630.66" cy="2014.33" r="3.6"/><circle cx="1621.59" cy="2017.51" r="3.6"/><circle cx="1625.22" cy="2017.96" r="3.6"/><circle cx="1631.11" cy="2018.87" r="3.6"/><circle cx="1625.22" cy="2023.4" r="3.6"/><circle cx="1628.39" cy="2026.12" r="3.6"/><circle cx="1627.94" cy="2029.75" r="3.6"/><circle cx="1646.53" cy="2012.06" r="3.6"/><circle cx="1652.7" cy="2000.54" r="3.6"/><circle cx="1671.66" cy="1986.21" r="3.6"/><circle cx="1669.66" cy="1995.1" r="3.6"/><circle cx="1675.1" cy="1995.28" r="3.6"/><circle cx="1648.8" cy="1925.9" r="3.6"/><circle cx="1666.94" cy="2020.23" r="3.6"/><circle cx="1670.57" cy="2020.68" r="3.6"/><circle cx="1664.67" cy="2032.74" r="3.6"/><circle cx="1666.67" cy="2040.45" r="3.6"/><circle cx="1644.26" cy="2040.63" r="3.6"/><circle cx="1646.98" cy="2043.36" r="3.6"/><circle cx="1653.33" cy="2045.17" r="3.6"/><circle cx="1656.51" cy="2046.08" r="3.6"/><circle cx="1637.91" cy="2051.97" r="3.6"/><circle cx="1643.36" cy="2048.8" r="3.6"/><circle cx="1646.98" cy="2050.61" r="3.6"/><circle cx="1641.54" cy="2054.24" r="3.6"/><circle cx="1640.63" cy="2057.87" r="3.6"/><circle cx="1645.17" cy="2055.15" r="3.6"/><circle cx="1650.61" cy="2060.59" r="3.6"/><circle cx="1626.39" cy="2056.05" r="3.6"/><circle cx="1626.3" cy="2056.1" r="3.6"/><circle cx="1615.9" cy="2074.2" r="3.6"/><circle cx="1622.6" cy="2088.4" r="3.6"/><circle cx="1600.5" cy="2094.1" r="3.6"/><circle cx="1612.7" cy="2107.5" r="3.6"/><circle cx="1650.5" cy="2061" r="3.6"/><circle cx="1732.9" cy="2045.3" r="3.6"/><circle cx="1690.7" cy="2042.3" r="3.6"/><circle cx="1666.6" cy="2041.1" r="3.6"/></g><rect x="1470.9" y="1737.4" width="435" height="435" fill="none" stroke="#262626" stroke-width="2"/><line x1="1470.9" y1="1737.4" x2="1470.9" y2="1742.9" stroke="#262626" stroke-width="2"/><line x1="1470.9" y1="2172.4" x2="1470.9" y2="2166.9" stroke="#262626" stroke-width="2"/><line x1="1579.65" y1="1737.4" x2="1579.65" y2="1742.9" stroke="#262626" stroke-width="2"/><line x1="1579.65" y1="2172.4" x2="1579.65" y2="2166.9" stroke="#262626" stroke-width="2"/><line x1="1688.4" y1="1737.4" x2="1688.4" y2="1742.9" stroke="#262626" stroke-width="2"/><line x1="1688.4" y1="2172.4" x2="1688.4" y2="2166.9" stroke="#262626" stroke-width="2"/><line x1="1797.15" y1="1737.4" x2="1797.15" y2="1742.9" stroke="#262626" stroke-width="2"/><line x1="1797.15" y1="2172.4" x2="1797.15" y2="2166.9" stroke="#262626" stroke-width="2"/><line x1="1905.9" y1="1737.4" x2="1905.9" y2="1742.9" stroke="#262626" stroke-width="2"/><line x1="1905.9" y1="2172.4" x2="1905.9" y2="2166.9" stroke="#262626" stroke-width="2"/><line x1="1470.9" y1="2172.4" x2="1476.4" y2="2172.4" stroke="#262626" stroke-width="2"/><line x1="1905.9" y1="2172.4" x2="1900.4" y2="2172.4" stroke="#262626" stroke-width="2"/><line x1="1470.9" y1="2063.65" x2="1476.4" y2="2063.65" stroke="#262626" stroke-width="2"/><line x1="1905.9" y1="2063.65" x2="1900.4" y2="2063.65" stroke="#262626" stroke-width="2"/><line x1="1470.9" y1="1954.9" x2="1476.4" y2="1954.9" stroke="#262626" stroke-width="2"/><line x1="1905.9" y1="1954.9" x2="1900.4" y2="1954.9" stroke="#262626" stroke-width="2"/><line x1="1470.9" y1="1846.15" x2="1476.4" y2="1846.15" stroke="#262626" stroke-width="2"/><line x1="1905.9" y1="1846.15" x2="1900.4" y2="1846.15" stroke="#262626" stroke-width="2"/><line x1="1470.9" y1="1737.4" x2="1476.4" y2="1737.4" stroke="#262626" stroke-width="2"/><line x1="1905.9" y1="1737.4" x2="1900.4" y2="1737.4" stroke="#262626" stroke-width="2"/><text transform="matrix(1 0 0 1.03 1469.4 2217.3)" font-size="33" text-anchor="middle" fill="#262626">-0.2</text><text transform="matrix(1 0 0 1.03 1578.15 2217.3)" font-size="33" text-anchor="middle" fill="#262626">-0.1</text><text transform="matrix(1 0 0 1.03 1686.9 2217.3)" font-size="33" text-anchor="middle" fill="#262626">0</text><text transform="matrix(1 0 0 1.03 1795.65 2217.3)" font-size="33" text-anchor="middle" fill="#262626">0.1</text><text transform="matrix(1 0 0 1.03 1904.4 2217.3)" font-size="33" text-anchor="middle" fill="#262626">0.2</text><text transform="matrix(1 0 0 1.03 1455.1 2184.8)" font-size="33" text-anchor="end" fill="#262626">-0.2</text><text transform="matrix(1 0 0 1.03 1455.1 2076.05)" font-size="33" text-anchor="end" fill="#262626">-0.1</text><text transform="matrix(1 0 0 1.03 1455.1 1967.3)" font-size="33" text-anchor="end" fill="#262626">0</text><text transform="matrix(1 0 0 1.03 1455.1 1858.55)" font-size="33" text-anchor="end" fill="#262626">0.1</text><text transform="matrix(1 0 0 1.03 1455.1 1749.8)" font-size="33" text-anchor="end" fill="#262626">0.2</text><text transform="matrix(1 0 0 1.03 1686.9 2263.3)" font-size="36.3" text-anchor="middle" fill="#262626">East error [m]</text><text transform="matrix(1 0 0 1.03 1491.6 1783.6)" font-size="36.3" fill="#000">Fixed rate: <tspan font-weight="bold">70.27</tspan>%</text>
</g>
<text transform="matrix(1 0 0 1.03 315.6 80.7)" font-size="31" text-anchor="start" fill="#000">HX-CSX601A</text>
<text transform="matrix(1 0 0 1.03 974.6 80.7)" font-size="31" text-anchor="start" fill="#000">HX-CVX603A</text>
<text transform="matrix(1 0 0 1.03 1680.6 81)" font-size="31" text-anchor="start" fill="#000">HC976</text>
<text transform="matrix(1 0 0 1.03 1030.5 1151.3)" font-size="36.4" text-anchor="middle" fill="#000">(a) Kinematic Test #1</text>
<text transform="matrix(1 0 0 1.03 1031.5 2312.9)" font-size="36.4" text-anchor="middle" fill="#000">(b) Kinematic Test #2</text>
</svg></body></html>
